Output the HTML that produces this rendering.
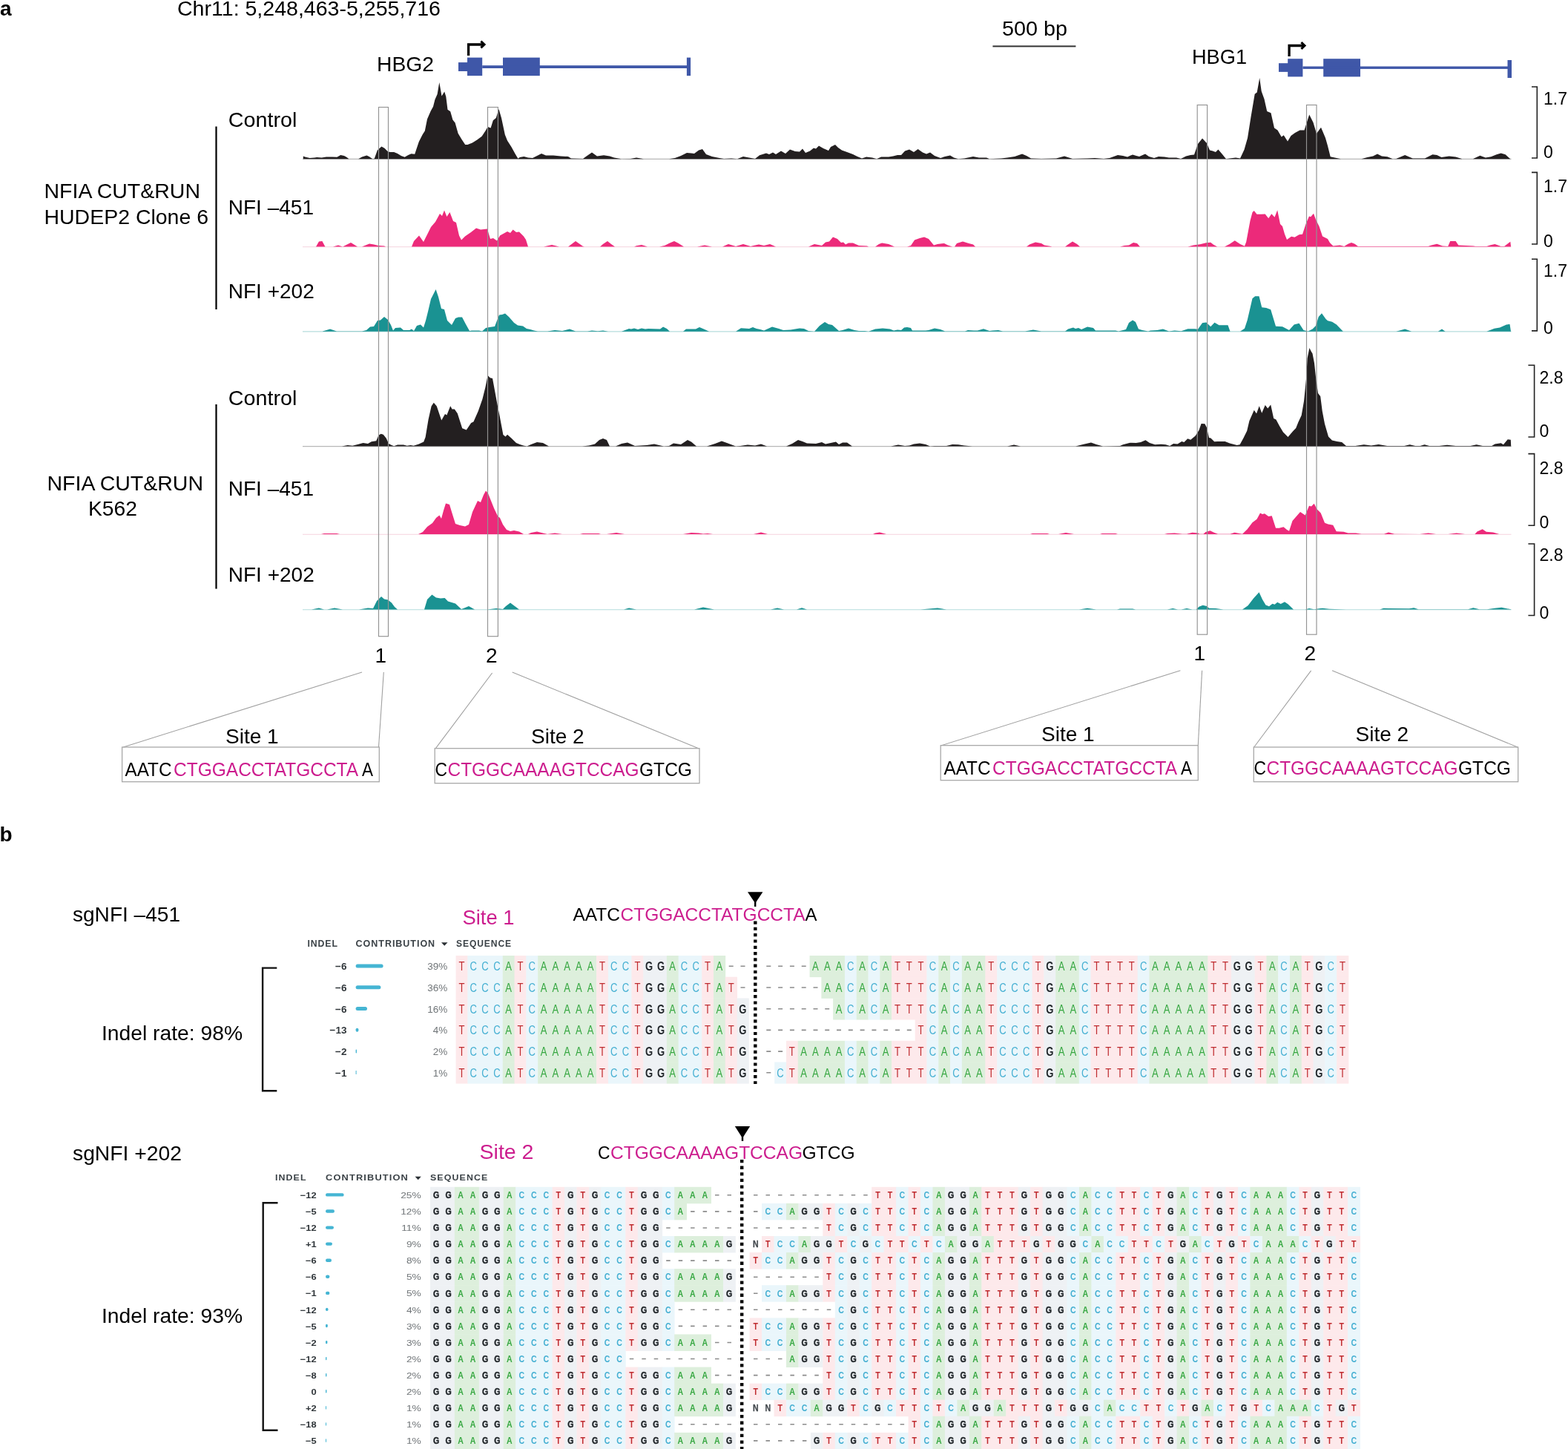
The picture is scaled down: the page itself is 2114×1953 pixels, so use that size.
<!DOCTYPE html>
<html lang="en">
<head>
<meta charset="utf-8">
<title>NFIA CUT&amp;RUN at HBG2/HBG1 and sgNFI editing</title>
<style>
html, body { margin: 0; padding: 0; background: #fff; }
body { width: 2114px; height: 1953px; overflow: hidden; font-family: 'Liberation Sans', Arial, sans-serif; }
svg { display: block; }
</style>
</head>
<body>
<svg width="2114" height="1953" viewBox="0 0 2114 1953" font-family="'Liberation Sans', Arial, sans-serif">
<style>.fT{fill:#bf2a2e}.bT{fill:#fde9eb}.fC{fill:#44afd2}.bC{fill:#eaf6fb}.fA{fill:#36a741}.bA{fill:#ddefdc}.fG{fill:#1f2428}.bG{fill:#eef1f4}.fN{fill:#444a4f}</style>
<text x="0.0" y="21.0" font-size="28" font-weight="bold">a</text>
<text x="239.0" y="21.0" font-size="27" textLength="355.0" lengthAdjust="spacingAndGlyphs">Chr11: 5,248,463-5,255,716</text>
<rect x="618.00" y="84.10" width="13.00" height="11.90" fill="#3f57a8" />
<rect x="630.00" y="77.60" width="20.20" height="24.50" fill="#3f57a8" />
<rect x="678.00" y="77.60" width="49.80" height="24.50" fill="#3f57a8" />
<rect x="650.20" y="88.20" width="275.80" height="3.80" fill="#3f57a8" />
<rect x="925.90" y="77.60" width="5.20" height="24.50" fill="#3f57a8" />
<path d="M631.6,75.0 V60.0 H652.1" fill="none" stroke="#000" stroke-width="3.3"/>
<path d="M648.4,55.6 L653.0,60.0 L648.4,64.4" fill="none" stroke="#000" stroke-width="3" stroke-linejoin="miter" stroke-miterlimit="6"/>
<rect x="1724.00" y="85.20" width="13.00" height="11.70" fill="#3f57a8" />
<rect x="1736.20" y="79.20" width="20.20" height="24.20" fill="#3f57a8" />
<rect x="1784.20" y="79.20" width="49.80" height="24.20" fill="#3f57a8" />
<rect x="1756.40" y="89.50" width="276.60" height="3.40" fill="#3f57a8" />
<rect x="2032.50" y="81.00" width="5.50" height="24.00" fill="#3f57a8" />
<path d="M1738.1,75.9 V61.5 H1758.1" fill="none" stroke="#000" stroke-width="3.3"/>
<path d="M1754.4,57.1 L1759.0,61.5 L1754.4,65.9" fill="none" stroke="#000" stroke-width="3" stroke-linejoin="miter" stroke-miterlimit="6"/>
<text x="508.0" y="96.0" font-size="28" textLength="77.0" lengthAdjust="spacingAndGlyphs">HBG2</text>
<text x="1607.0" y="86.4" font-size="28" textLength="74.0" lengthAdjust="spacingAndGlyphs">HBG1</text>
<text x="1351.0" y="48.0" font-size="28" textLength="88.0" lengthAdjust="spacingAndGlyphs">500 bp</text>
<rect x="1338.40" y="61.40" width="112.00" height="2.00" fill="#333" />
<text x="307.8" y="171.2" font-size="28" textLength="92.5" lengthAdjust="spacingAndGlyphs">Control</text>
<text x="307.8" y="288.6" font-size="28">NFI –451</text>
<text x="307.8" y="401.8" font-size="28">NFI +202</text>
<text x="307.8" y="545.7" font-size="28" textLength="92.5" lengthAdjust="spacingAndGlyphs">Control</text>
<text x="307.8" y="667.6" font-size="28">NFI –451</text>
<text x="307.8" y="783.5" font-size="28">NFI +202</text>
<text x="59.5" y="267.3" font-size="28" textLength="210.5" lengthAdjust="spacingAndGlyphs">NFIA CUT&amp;RUN</text>
<text x="59.5" y="302.0" font-size="28" textLength="221.5" lengthAdjust="spacingAndGlyphs">HUDEP2 Clone 6</text>
<text x="63.5" y="661.0" font-size="28" textLength="210.5" lengthAdjust="spacingAndGlyphs">NFIA CUT&amp;RUN</text>
<text x="119.0" y="695.3" font-size="28" textLength="66.0" lengthAdjust="spacingAndGlyphs">K562</text>
<rect x="290.40" y="170.50" width="2.20" height="246.50" fill="#000" />
<rect x="290.40" y="545.00" width="2.20" height="248.60" fill="#000" />
<line x1="408.0" y1="214.4" x2="2037.5" y2="214.4" stroke="#b8b8b8" stroke-width="1.1" />
<path d="M408.8,214.2 L408.8,210.5 L411.2,211.5 L417.6,213.1 L424.0,212.6 L427.2,212.1 L433.6,212.6 L440.0,211.5 L448.0,211.5 L454.4,211.8 L459.2,209.1 L464.0,209.9 L467.2,211.8 L470.4,214.2 L483.2,214.2 L488.0,211.5 L494.4,209.4 L497.6,211.0 L502.4,214.2 L504.8,213.7 L508.8,202.5 L514.4,197.4 L518.4,199.8 L523.2,204.6 L526.4,205.1 L531.2,205.1 L536.0,207.0 L540.8,209.9 L545.6,211.8 L550.4,208.9 L554.4,207.3 L559.2,207.8 L561.6,200.6 L564.8,191.0 L569.6,181.4 L572.8,176.6 L576.0,160.6 L580.8,149.4 L584.0,143.8 L586.4,134.2 L589.6,127.0 L592.3,111.0 L595.5,129.4 L599.2,123.5 L601.3,130.2 L603.5,147.8 L607.2,150.2 L610.4,161.4 L613.6,165.4 L617.6,179.8 L622.4,187.8 L627.2,195.0 L630.4,195.0 L636.8,192.6 L643.2,188.6 L649.6,183.8 L654.4,176.6 L657.6,171.0 L661.6,172.6 L664.8,162.2 L668.8,159.0 L672.5,147.0 L676.0,159.0 L680.8,181.4 L684.0,189.4 L689.6,198.2 L694.4,207.0 L698.4,213.7 L700.8,212.1 L706.4,211.0 L712.0,212.6 L718.0,213.0 L730.0,207.0 L736.0,209.6 L746.0,209.6 L756.0,210.6 L766.0,211.0 L770.0,213.6 L786.0,214.0 L790.0,211.0 L798.0,205.6 L805.0,210.4 L814.0,209.2 L822.0,210.4 L828.0,212.4 L838.0,214.2 L850.0,214.0 L858.0,212.4 L868.0,214.2 L902.0,214.2 L910.0,213.0 L918.0,210.0 L926.0,206.0 L932.0,206.4 L936.0,207.0 L942.0,202.4 L947.0,201.0 L952.0,208.0 L960.0,211.0 L970.0,213.0 L976.0,214.0 L986.0,213.6 L994.0,214.2 L1002.0,211.0 L1010.0,212.4 L1018.0,214.0 L1024.0,209.2 L1033.0,206.4 L1037.0,208.0 L1042.0,205.6 L1046.0,208.0 L1053.0,203.6 L1059.0,207.0 L1065.0,201.6 L1072.0,204.0 L1078.0,204.4 L1082.0,200.4 L1086.0,206.0 L1092.0,203.6 L1097.0,199.6 L1100.0,200.4 L1104.0,196.4 L1110.0,200.0 L1117.0,203.0 L1120.0,198.0 L1126.0,195.0 L1130.0,199.0 L1135.0,202.4 L1142.0,205.0 L1150.0,208.0 L1156.0,211.0 L1162.0,213.6 L1168.0,211.6 L1176.0,212.4 L1182.0,214.2 L1188.0,211.6 L1198.0,211.6 L1204.0,210.4 L1210.0,209.0 L1215.0,209.0 L1220.0,203.6 L1226.0,201.6 L1232.0,205.0 L1237.6,201.0 L1244.0,205.6 L1249.0,207.6 L1254.0,205.6 L1260.0,210.0 L1268.0,213.0 L1274.0,211.0 L1281.0,209.6 L1286.0,212.4 L1292.0,214.2 L1300.0,213.6 L1312.0,211.0 L1320.0,212.4 L1330.0,212.4 L1334.0,214.2 L1350.0,213.6 L1358.0,212.4 L1368.0,211.0 L1378.0,207.6 L1384.0,210.0 L1390.0,213.6 L1404.0,214.0 L1424.0,213.6 L1435.0,210.4 L1446.0,214.0 L1466.0,213.6 L1476.0,213.0 L1488.0,214.0 L1496.0,213.0 L1507.0,209.0 L1514.0,210.0 L1520.0,211.6 L1527.0,208.4 L1532.0,210.0 L1536.0,211.0 L1544.0,207.4 L1549.0,211.0 L1556.0,213.0 L1562.0,211.0 L1570.0,211.6 L1576.0,212.4 L1586.0,212.4 L1592.0,214.0 L1599.0,210.4 L1605.0,209.0 L1610.0,208.6 L1615.0,194.0 L1621.0,186.4 L1627.0,193.0 L1631.0,202.6 L1635.0,203.4 L1639.0,205.0 L1642.4,201.6 L1648.0,208.0 L1653.0,214.2 L1658.0,213.6 L1666.0,212.4 L1672.0,213.6 L1677.5,201.7 L1682.0,186.0 L1686.5,157.5 L1691.7,126.7 L1694.7,124.5 L1698.2,105.0 L1700.7,123.0 L1704.5,133.5 L1708.2,150.0 L1713.5,152.2 L1718.0,172.5 L1722.5,175.5 L1727.7,184.5 L1730.7,182.2 L1736.0,190.5 L1740.5,183.0 L1746.0,179.0 L1752.5,175.5 L1758.5,175.5 L1765.2,154.5 L1770.5,165.0 L1775.0,180.0 L1781.0,171.7 L1787.0,186.0 L1790.0,196.4 L1793.7,211.2 L1807.9,214.2 L1835.4,214.2 L1843.6,212.0 L1851.0,210.5 L1857.0,207.5 L1863.0,210.5 L1870.4,211.2 L1877.8,214.2 L1882.3,213.9 L1894.2,209.0 L1904.6,213.5 L1921.0,213.5 L1931.4,208.3 L1937.3,209.0 L1943.3,212.0 L1953.7,210.5 L1962.6,211.5 L1971.5,214.2 L1985.7,214.2 L1995.4,209.8 L2002.8,212.4 L2010.2,211.2 L2017.7,208.3 L2023.6,206.5 L2029.6,208.3 L2036.3,214.2 L2036.3,214.2 Z" fill="#231f20"/>
<line x1="408.0" y1="332.7" x2="2037.5" y2="332.7" stroke="#f5d2de" stroke-width="1.1" />
<path d="M426.0,332.5 L426.0,332.5 L430.0,325.4 L434.4,325.0 L438.4,332.5 L449.0,332.5 L456.0,330.6 L462.0,332.5 L465.0,331.0 L473.0,327.0 L482.0,332.5 L488.0,332.5 L498.0,328.6 L504.0,329.4 L510.0,331.0 L518.0,331.4 L520.0,332.5 L555.0,332.5 L558.0,325.0 L565.0,317.4 L571.0,326.0 L575.0,318.0 L581.0,306.0 L587.0,299.0 L593.0,288.0 L596.0,291.0 L599.0,283.4 L602.4,292.0 L606.4,286.0 L611.0,298.0 L615.0,300.0 L619.0,317.4 L622.0,323.4 L627.0,318.6 L635.0,313.0 L642.0,307.4 L648.0,309.4 L657.0,308.6 L661.0,322.0 L665.0,321.0 L670.0,324.6 L674.0,317.4 L684.0,312.0 L688.0,314.0 L691.6,309.4 L696.0,313.0 L700.0,312.6 L706.0,318.6 L709.0,323.0 L712.0,332.5 L733.0,332.5 L744.0,330.0 L754.0,332.5 L766.0,332.5 L776.0,325.0 L786.0,332.0 L788.0,332.5 L809.0,332.5 L813.0,329.0 L819.0,325.0 L824.0,329.0 L829.0,332.5 L855.0,332.5 L858.0,331.2 L865.0,330.0 L873.0,332.5 L889.0,332.5 L896.0,331.0 L903.0,327.6 L909.0,325.0 L914.0,327.6 L922.0,332.5 L940.0,332.5 L950.0,330.4 L960.0,332.5 L974.0,332.5 L982.0,329.0 L992.0,332.0 L1002.0,329.0 L1012.0,332.0 L1023.0,329.4 L1030.0,331.0 L1038.0,329.0 L1046.0,332.5 L1090.0,332.5 L1098.0,329.0 L1108.0,331.0 L1113.0,326.4 L1118.0,325.6 L1123.0,319.6 L1129.0,322.0 L1134.0,327.0 L1137.0,326.4 L1140.0,329.6 L1144.0,327.6 L1150.0,327.6 L1158.0,331.0 L1169.0,331.6 L1171.0,332.5 L1180.0,332.5 L1185.0,329.0 L1189.0,327.4 L1198.0,329.0 L1206.0,332.5 L1223.0,332.5 L1228.0,331.0 L1233.0,323.6 L1240.0,321.0 L1246.0,319.4 L1252.0,322.0 L1259.0,330.4 L1264.0,329.0 L1273.0,328.0 L1278.0,330.4 L1284.0,332.5 L1287.0,332.5 L1290.0,328.0 L1298.0,325.6 L1306.0,328.0 L1312.0,329.6 L1315.0,332.5 L1384.0,332.5 L1388.0,329.6 L1396.0,326.6 L1404.0,328.0 L1408.0,330.4 L1417.0,332.0 L1418.0,332.5 L1436.0,332.5 L1440.0,329.6 L1446.0,325.6 L1452.0,329.0 L1456.0,332.5 L1510.0,332.5 L1516.0,331.0 L1522.0,330.4 L1528.0,327.0 L1533.0,328.0 L1537.0,332.5 L1601.5,332.4 L1609.0,330.5 L1618.0,329.3 L1626.2,327.2 L1632.2,326.7 L1636.0,329.7 L1641.2,332.4 L1651.0,332.4 L1657.7,329.0 L1664.8,324.2 L1672.0,329.0 L1678.0,331.7 L1680.2,326.0 L1685.5,297.5 L1688.5,286.2 L1690.7,284.0 L1694.5,288.8 L1700.5,288.8 L1705.7,288.5 L1710.2,294.2 L1714.3,288.2 L1718.5,292.7 L1722.2,283.2 L1726.0,302.0 L1729.0,305.0 L1732.0,315.5 L1735.0,323.0 L1741.0,318.8 L1745.5,319.7 L1751.5,316.2 L1756.0,315.8 L1760.5,302.0 L1765.0,291.5 L1767.2,292.2 L1771.0,287.7 L1774.0,296.0 L1778.5,305.0 L1783.0,318.5 L1787.5,320.7 L1790.0,322.1 L1793.0,327.3 L1797.4,331.5 L1801.9,331.0 L1806.4,330.6 L1812.3,332.1 L1817.5,328.8 L1822.0,327.0 L1826.5,328.8 L1830.9,332.1 L1925.4,332.1 L1929.9,330.6 L1937.3,328.8 L1944.8,331.5 L1952.2,332.1 L1955.2,325.1 L1962.6,325.1 L1966.3,330.6 L1986.4,331.5 L1989.4,332.1 L2004.3,332.1 L2008.8,330.6 L2015.4,329.1 L2023.6,332.1 L2028.1,332.1 L2036.3,325.8 L2037.0,332.1 L2037.0,332.5 Z" fill="#ec2a7a"/>
<line x1="408.0" y1="446.9" x2="2037.5" y2="446.9" stroke="#b5dcdc" stroke-width="1.1" />
<path d="M435.0,446.7 L435.0,446.6 L445.0,443.6 L454.0,446.6 L488.0,446.6 L494.0,445.0 L499.0,440.4 L504.0,440.0 L509.0,432.0 L513.0,431.6 L518.0,427.0 L523.0,431.0 L527.0,438.0 L530.0,445.6 L533.0,442.0 L540.0,441.6 L544.0,445.0 L552.0,445.0 L555.0,443.6 L558.0,446.0 L562.0,439.0 L567.0,437.6 L571.0,441.6 L574.0,432.0 L577.0,420.0 L581.0,403.0 L587.6,390.0 L591.0,400.0 L595.0,416.0 L599.0,417.0 L603.0,432.0 L609.0,438.0 L614.0,429.0 L618.0,427.4 L623.0,427.6 L628.0,437.0 L633.0,446.0 L636.0,445.6 L646.0,445.6 L650.0,446.6 L655.0,442.0 L660.0,441.0 L667.0,440.0 L673.0,424.4 L677.0,424.0 L681.0,422.4 L686.0,427.0 L693.0,435.0 L698.0,438.4 L705.0,439.6 L710.0,443.0 L715.0,444.0 L720.0,445.6 L725.0,446.6 L738.0,446.6 L748.0,445.0 L758.0,446.0 L768.0,443.6 L776.0,446.6 L792.0,446.6 L798.0,445.4 L806.0,446.2 L813.0,445.4 L820.0,446.7 L838.0,446.7 L848.0,443.0 L851.0,443.6 L855.0,442.6 L860.0,444.0 L865.0,442.4 L870.0,443.4 L874.0,443.0 L890.0,443.4 L894.0,440.6 L899.0,443.0 L903.0,446.7 L921.0,446.7 L925.0,443.6 L938.0,443.6 L943.0,441.0 L950.0,444.0 L956.0,446.7 L992.0,446.7 L999.0,442.2 L1010.0,443.0 L1015.0,441.0 L1020.0,443.0 L1025.0,444.0 L1030.0,445.4 L1041.0,440.6 L1050.0,443.0 L1056.0,445.0 L1066.0,444.6 L1078.0,442.6 L1084.0,443.0 L1090.0,446.0 L1098.0,446.7 L1105.0,439.0 L1112.0,434.0 L1117.0,437.0 L1122.0,438.0 L1131.0,446.0 L1136.0,445.0 L1144.0,442.4 L1152.0,445.0 L1158.0,446.0 L1166.0,446.0 L1171.0,446.7 L1180.0,443.6 L1190.0,442.6 L1200.0,443.6 L1205.0,445.4 L1210.0,444.4 L1215.0,445.0 L1219.0,441.6 L1223.0,441.0 L1228.0,442.0 L1230.0,445.4 L1248.0,445.6 L1252.0,445.0 L1260.0,442.4 L1268.0,444.0 L1274.0,446.6 L1301.0,446.6 L1305.0,445.0 L1313.0,445.6 L1318.0,445.6 L1326.0,443.2 L1334.0,446.0 L1338.0,445.6 L1346.0,445.0 L1352.0,446.6 L1382.0,446.6 L1393.0,444.4 L1404.0,446.6 L1436.0,446.6 L1440.0,443.6 L1447.0,441.6 L1450.0,443.0 L1454.0,442.0 L1458.0,444.0 L1466.0,440.6 L1474.0,442.0 L1477.0,445.6 L1504.0,445.6 L1508.0,446.6 L1512.0,445.6 L1518.0,444.0 L1522.0,435.0 L1527.0,431.6 L1531.0,434.0 L1535.0,443.6 L1540.0,445.0 L1548.0,446.6 L1551.0,445.6 L1560.0,445.0 L1568.0,443.6 L1576.0,446.5 L1583.5,445.4 L1592.5,446.2 L1601.5,443.2 L1610.5,443.2 L1615.0,443.8 L1621.0,435.2 L1626.2,434.5 L1632.2,440.2 L1637.5,434.8 L1643.5,438.2 L1655.5,438.2 L1658.5,446.7 L1672.0,446.7 L1678.0,442.7 L1681.7,431.5 L1688.5,402.2 L1692.2,399.2 L1697.5,399.2 L1701.2,414.2 L1707.2,415.0 L1713.2,417.2 L1720.0,439.7 L1729.0,440.2 L1738.0,445.0 L1744.7,437.5 L1751.5,435.7 L1757.5,445.0 L1763.5,446.5 L1769.5,443.5 L1774.0,439.0 L1777.7,427.0 L1782.0,422.2 L1787.5,430.0 L1790.0,432.2 L1796.0,433.7 L1801.9,437.4 L1810.8,446.7 L1882.3,446.7 L1894.2,443.4 L1903.1,446.7 L1938.8,446.7 L1944.0,443.4 L1948.5,446.7 L2004.3,446.7 L2014.7,442.7 L2022.1,441.6 L2031.1,437.4 L2035.5,437.1 L2037.0,446.7 L2037.0,446.7 Z" fill="#1a9292"/>
<line x1="408.0" y1="601.6" x2="2037.5" y2="601.6" stroke="#b8b8b8" stroke-width="1.1" />
<path d="M460.8,601.4 L460.8,601.4 L468.8,600.0 L475.2,600.7 L483.2,598.8 L489.6,596.9 L496.0,598.0 L500.8,595.3 L507.2,594.3 L510.4,586.8 L513.6,584.7 L516.8,585.7 L520.8,590.8 L524.0,598.0 L528.0,600.0 L531.2,601.2 L536.0,599.6 L544.0,599.6 L548.8,600.7 L553.6,599.9 L557.6,600.7 L564.8,598.5 L571.2,595.6 L573.6,589.2 L577.6,565.2 L581.6,547.6 L584.8,542.8 L588.8,547.6 L595.2,566.5 L600.0,558.0 L602.4,559.6 L607.2,547.3 L609.6,551.6 L612.8,551.6 L616.8,557.2 L623.2,577.2 L628.8,579.6 L635.2,570.0 L638.4,568.4 L644.8,554.0 L650.4,538.0 L654.4,522.0 L657.6,506.0 L660.8,509.2 L664.0,510.0 L670.4,544.4 L673.6,560.4 L678.4,586.0 L681.6,588.4 L684.0,585.7 L689.6,590.8 L696.0,596.9 L700.8,599.1 L705.6,600.4 L710.4,601.4 L716.0,599.0 L724.0,596.0 L732.0,597.0 L740.0,601.4 L785.0,601.4 L794.0,600.4 L802.0,598.4 L808.0,593.0 L813.0,591.0 L818.0,593.0 L822.0,601.4 L830.0,601.4 L838.0,598.0 L846.0,596.6 L856.0,601.0 L872.0,600.0 L882.0,598.6 L895.0,601.4 L902.0,601.0 L908.0,597.6 L918.0,599.0 L927.0,593.0 L932.0,595.6 L939.0,601.4 L953.0,601.4 L964.0,598.0 L973.0,594.4 L980.0,597.0 L992.0,601.4 L998.0,601.0 L1008.0,599.6 L1018.0,600.4 L1026.0,598.6 L1034.0,601.4 L1060.0,601.4 L1068.0,598.0 L1076.0,593.0 L1082.0,595.0 L1088.0,597.6 L1100.0,598.0 L1108.0,596.0 L1113.0,598.6 L1120.0,597.0 L1127.0,595.6 L1131.0,599.0 L1136.0,596.4 L1142.0,596.4 L1149.0,601.4 L1201.0,601.4 L1211.0,599.6 L1220.0,601.0 L1226.0,600.6 L1232.0,598.6 L1240.0,597.6 L1248.0,599.0 L1254.0,601.4 L1260.0,601.0 L1276.0,601.0 L1284.0,599.0 L1292.0,599.2 L1300.0,600.4 L1311.0,601.4 L1358.0,601.4 L1367.0,599.6 L1376.0,601.4 L1450.0,601.4 L1460.0,599.0 L1471.0,596.4 L1478.0,599.0 L1487.0,601.4 L1510.0,601.1 L1514.0,599.2 L1523.6,596.8 L1531.6,597.1 L1538.0,596.0 L1544.4,593.3 L1550.0,597.1 L1557.2,599.2 L1565.2,598.7 L1571.6,599.2 L1577.2,601.1 L1582.0,598.1 L1587.6,598.4 L1593.2,594.9 L1596.4,596.0 L1601.2,591.2 L1605.2,592.8 L1611.6,587.5 L1616.4,580.0 L1619.6,570.9 L1624.4,571.2 L1626.8,576.0 L1630.0,590.0 L1632.4,590.4 L1637.2,595.2 L1642.0,594.9 L1651.6,594.9 L1658.0,597.6 L1667.6,600.0 L1671.6,599.2 L1676.4,590.4 L1681.2,580.8 L1684.4,567.2 L1690.8,552.8 L1694.0,557.6 L1697.7,547.2 L1701.2,556.8 L1705.7,545.9 L1709.2,550.4 L1713.2,545.6 L1717.2,564.0 L1720.4,565.6 L1725.2,574.4 L1730.0,582.4 L1736.5,589.0 L1743.1,581.2 L1747.2,577.1 L1750.5,568.8 L1754.7,559.7 L1758.0,540.8 L1761.3,507.8 L1762.6,483.0 L1765.4,469.0 L1767.9,473.9 L1769.5,476.4 L1772.0,489.6 L1774.5,512.7 L1777.0,530.0 L1780.2,534.2 L1782.7,554.0 L1786.0,571.3 L1791.0,588.6 L1795.9,593.6 L1802.5,594.9 L1809.1,596.0 L1814.9,601.0 L1827.3,601.0 L1838.8,599.3 L1848.7,600.5 L1858.6,599.0 L1870.2,601.0 L1893.3,601.0 L1900.7,599.3 L1908.1,601.0 L1914.7,601.0 L1920.5,599.3 L1927.1,601.0 L1940.3,601.0 L1951.0,599.8 L1962.6,601.0 L1982.4,601.0 L1990.6,599.3 L1998.9,601.0 L2011.3,601.0 L2015.4,598.5 L2023.6,597.2 L2026.9,599.3 L2032.7,592.2 L2036.8,592.7 L2037.2,601.0 L2037.2,601.4 Z" fill="#231f20"/>
<line x1="408.0" y1="720.2" x2="2037.5" y2="720.2" stroke="#f5d2de" stroke-width="1.1" />
<path d="M433.0,720.0 L433.0,720.0 L437.0,719.0 L454.0,719.0 L458.0,720.0 L564.0,720.0 L570.0,717.0 L576.0,710.0 L583.0,705.0 L588.0,698.0 L592.4,694.4 L595.0,699.0 L598.0,688.0 L601.0,678.4 L606.0,680.0 L609.0,690.0 L614.0,706.0 L620.0,708.0 L627.0,709.6 L632.0,707.0 L637.0,690.0 L644.0,675.0 L648.0,677.0 L652.0,667.0 L655.0,661.6 L658.0,665.0 L662.0,675.0 L666.0,685.0 L671.0,695.6 L674.0,698.0 L678.0,707.0 L683.0,714.0 L688.0,716.0 L693.0,715.0 L700.0,716.4 L706.0,720.0 L712.0,720.0 L716.0,718.0 L724.0,716.6 L734.0,719.0 L738.0,720.0 L748.0,718.4 L758.0,720.0 L782.0,720.0 L786.0,719.0 L790.0,719.0 L807.0,719.0 L810.0,720.0 L818.0,720.0 L831.0,718.0 L842.0,720.0 L921.0,720.0 L932.0,718.0 L942.0,718.4 L948.0,719.6 L954.0,719.0 L961.0,720.0 L1016.0,720.0 L1026.0,717.4 L1035.0,720.0 L1177.0,720.0 L1180.0,718.5 L1186.0,717.6 L1195.0,720.0 L1389.0,720.0 L1392.0,719.0 L1412.0,719.0 L1415.0,720.0 L1427.0,720.0 L1437.0,718.0 L1448.0,720.0 L1483.0,720.0 L1486.0,719.0 L1504.0,719.0 L1507.0,720.0 L1570.0,720.0 L1574.0,719.0 L1583.5,718.5 L1594.0,719.7 L1600.0,719.7 L1607.5,717.7 L1615.0,718.5 L1617.2,719.7 L1622.5,719.7 L1625.5,717.0 L1631.5,715.2 L1636.7,717.7 L1642.0,719.7 L1658.5,719.7 L1664.5,717.7 L1672.0,719.2 L1675.0,719.7 L1681.7,713.2 L1688.5,704.2 L1694.5,699.7 L1699.0,691.5 L1702.0,693.0 L1705.0,692.2 L1710.2,696.0 L1714.7,695.2 L1720.0,711.7 L1724.5,711.7 L1730.5,710.2 L1735.0,714.0 L1738.0,715.8 L1742.5,702.0 L1753.0,690.0 L1759.7,694.5 L1765.0,681.7 L1768.0,682.5 L1771.7,678.7 L1775.5,686.2 L1780.7,691.5 L1786.0,704.7 L1790.5,706.5 L1797.2,707.7 L1801.7,716.2 L1811.5,716.7 L1817.5,718.5 L1828.0,718.5 L1835.5,719.7 L1866.0,719.7 L1872.0,717.5 L1880.0,719.7 L1914.4,720.0 L1925.7,718.5 L1936.0,720.0 L1952.4,720.0 L1963.7,718.5 L1975.0,720.0 L1988.4,720.0 L1991.5,716.4 L1998.7,713.3 L2003.8,716.8 L2013.0,717.5 L2021.3,720.0 L2021.3,720.0 Z" fill="#ec2a7a"/>
<line x1="408.0" y1="821.7" x2="2037.5" y2="821.7" stroke="#b5dcdc" stroke-width="1.1" />
<path d="M420.0,821.5 L420.0,821.5 L430.0,819.4 L437.0,821.5 L441.0,821.5 L451.0,819.6 L462.0,821.5 L484.0,821.5 L496.0,819.6 L503.0,820.0 L508.0,810.0 L514.0,804.0 L518.0,807.6 L523.0,808.4 L528.0,812.4 L532.0,818.0 L536.0,821.5 L572.0,821.5 L576.0,808.0 L582.4,801.6 L588.0,805.6 L594.0,806.6 L599.6,806.0 L604.0,810.6 L614.0,813.6 L622.0,821.0 L626.0,819.6 L632.0,817.0 L640.0,821.5 L657.0,821.5 L669.0,820.0 L678.0,821.0 L682.0,817.0 L688.0,812.6 L694.0,817.0 L700.0,821.5 L841.0,821.5 L848.0,819.4 L858.0,821.5 L936.0,821.5 L948.0,818.6 L963.0,821.5 L1039.0,821.5 L1048.0,819.6 L1057.0,821.5 L1074.0,821.5 L1081.0,819.2 L1088.0,821.5 L1241.0,821.5 L1264.0,819.4 L1276.0,821.5 L1455.0,821.5 L1466.0,819.8 L1478.0,821.5 L1506.0,821.5 L1510.0,820.4 L1527.0,820.4 L1531.0,821.5 L1573.7,821.5 L1581.2,820.0 L1588.0,821.5 L1592.5,821.5 L1600.0,820.0 L1607.5,821.5 L1612.7,821.5 L1616.5,817.7 L1621.7,815.8 L1627.0,817.0 L1630.0,819.7 L1639.0,820.0 L1649.5,821.5 L1675.0,821.5 L1682.5,816.2 L1690.0,806.5 L1697.5,798.2 L1702.0,808.0 L1706.5,815.5 L1711.0,817.3 L1715.5,813.7 L1718.5,814.7 L1722.2,811.7 L1726.7,814.0 L1732.0,811.3 L1736.5,814.3 L1744.0,821.5 L1759.7,821.5 L1765.0,820.0 L1771.7,821.2 L1783.0,819.7 L1792.0,820.7 L1814.5,821.5 L1860.2,821.5 L1865.5,819.7 L1872.0,820.0 L1900.0,820.2 L1906.2,819.2 L1912.3,821.3 L1979.2,821.3 L1986.3,819.2 L1994.6,821.3 L2004.9,821.3 L2015.1,819.8 L2024.4,818.8 L2031.6,820.3 L2037.3,821.3 L2037.3,821.5 Z" fill="#1a9292"/>
<path d="M2065.0,117.0 H2072.3 V213.0 H2065.0" fill="none" stroke="#222" stroke-width="1.6"/>
<path d="M2065.0,232.4 H2072.3 V329.0 H2065.0" fill="none" stroke="#222" stroke-width="1.6"/>
<path d="M2065.0,349.3 H2072.3 V445.9 H2065.0" fill="none" stroke="#222" stroke-width="1.6"/>
<text x="2081.0" y="141.0" font-size="23">1.7</text>
<text x="2081.0" y="258.7" font-size="23">1.7</text>
<text x="2081.0" y="372.6" font-size="23">1.7</text>
<text x="2081.0" y="213.0" font-size="23">0</text>
<text x="2081.0" y="332.7" font-size="23">0</text>
<text x="2081.0" y="449.6" font-size="23">0</text>
<path d="M2060.4,492.3 H2068.6 V589.0 H2060.4" fill="none" stroke="#222" stroke-width="1.6"/>
<path d="M2060.4,611.6 H2068.6 V708.2 H2060.4" fill="none" stroke="#222" stroke-width="1.6"/>
<path d="M2060.4,733.0 H2068.6 V829.5 H2060.4" fill="none" stroke="#222" stroke-width="1.6"/>
<text x="2075.5" y="516.6" font-size="23">2.8</text>
<text x="2075.5" y="638.7" font-size="23">2.8</text>
<text x="2075.5" y="755.5" font-size="23">2.8</text>
<text x="2075.5" y="589.0" font-size="23">0</text>
<text x="2075.5" y="712.0" font-size="23">0</text>
<text x="2075.5" y="833.6" font-size="23">0</text>
<rect x="510.5" y="144.5" width="13.0" height="713.2" fill="none" stroke="#939393" stroke-width="1.15"/>
<rect x="657.5" y="144.5" width="13.9" height="713.2" fill="none" stroke="#939393" stroke-width="1.15"/>
<rect x="1614.2" y="141.5" width="13.4" height="713.7" fill="none" stroke="#939393" stroke-width="1.15"/>
<rect x="1761.5" y="141.5" width="13.5" height="713.7" fill="none" stroke="#939393" stroke-width="1.15"/>
<text x="505.5" y="893.0" font-size="28">1</text>
<text x="655.0" y="893.0" font-size="28">2</text>
<text x="1609.5" y="889.7" font-size="28">1</text>
<text x="1758.5" y="889.7" font-size="28">2</text>
<line x1="488.0" y1="905.9" x2="166.2" y2="1007.0" stroke="#a0a0a0" stroke-width="1.1" />
<line x1="517.3" y1="906.0" x2="510.5" y2="1007.0" stroke="#a0a0a0" stroke-width="1.1" />
<line x1="663.6" y1="907.0" x2="587.4" y2="1008.7" stroke="#a0a0a0" stroke-width="1.1" />
<line x1="690.7" y1="906.0" x2="941.8" y2="1008.7" stroke="#a0a0a0" stroke-width="1.1" />
<line x1="1591.4" y1="903.8" x2="1269.4" y2="1004.7" stroke="#a0a0a0" stroke-width="1.1" />
<line x1="1620.6" y1="903.8" x2="1615.3" y2="1004.7" stroke="#a0a0a0" stroke-width="1.1" />
<line x1="1767.6" y1="903.8" x2="1690.7" y2="1007.0" stroke="#a0a0a0" stroke-width="1.1" />
<line x1="1796.0" y1="903.8" x2="2045.9" y2="1007.0" stroke="#a0a0a0" stroke-width="1.1" />
<rect x="164.6" y="1007.0" width="346.7" height="46.7" fill="none" stroke="#a8a8a8" stroke-width="1.3"/>
<rect x="586.2" y="1008.7" width="356.8" height="47.0" fill="none" stroke="#a8a8a8" stroke-width="1.3"/>
<rect x="1268.2" y="1004.7" width="347.1" height="47.0" fill="none" stroke="#a8a8a8" stroke-width="1.3"/>
<rect x="1690.3" y="1007.0" width="356.4" height="46.7" fill="none" stroke="#a8a8a8" stroke-width="1.3"/>
<text x="304.0" y="1002.3" font-size="28">Site 1</text>
<text x="716.0" y="1002.3" font-size="28">Site 2</text>
<text x="1404.0" y="999.0" font-size="28">Site 1</text>
<text x="1827.5" y="999.0" font-size="28">Site 2</text>
<text x="168.5" y="1046.0" font-size="25.5" textLength="63.0" lengthAdjust="spacingAndGlyphs">AATC</text>
<text x="234.1" y="1046.0" font-size="25.5" fill="#cc1d8e" textLength="249.0" lengthAdjust="spacingAndGlyphs">CTGGACCTATGCCTA</text>
<text x="488.0" y="1046.0" font-size="25.5" textLength="15.0" lengthAdjust="spacingAndGlyphs">A</text>
<text x="586.5" y="1046.0" font-size="25.5" textLength="16.5" lengthAdjust="spacingAndGlyphs">C</text>
<text x="603.5" y="1046.0" font-size="25.5" fill="#cc1d8e" textLength="258.0" lengthAdjust="spacingAndGlyphs">CTGGCAAAAGTCCAG</text>
<text x="862.0" y="1046.0" font-size="25.5" textLength="71.0" lengthAdjust="spacingAndGlyphs">GTCG</text>
<text x="1272.5" y="1043.6" font-size="25.5" textLength="63.0" lengthAdjust="spacingAndGlyphs">AATC</text>
<text x="1338.1" y="1043.6" font-size="25.5" fill="#cc1d8e" textLength="249.0" lengthAdjust="spacingAndGlyphs">CTGGACCTATGCCTA</text>
<text x="1592.0" y="1043.6" font-size="25.5" textLength="15.0" lengthAdjust="spacingAndGlyphs">A</text>
<text x="1690.5" y="1043.6" font-size="25.5" textLength="16.5" lengthAdjust="spacingAndGlyphs">C</text>
<text x="1707.5" y="1043.6" font-size="25.5" fill="#cc1d8e" textLength="258.0" lengthAdjust="spacingAndGlyphs">CTGGCAAAAGTCCAG</text>
<text x="1966.0" y="1043.6" font-size="25.5" textLength="71.0" lengthAdjust="spacingAndGlyphs">GTCG</text>
<text x="-0.5" y="1134.0" font-size="28" font-weight="bold">b</text>
<text x="98.0" y="1241.5" font-size="28" textLength="145.0" lengthAdjust="spacingAndGlyphs">sgNFI –451</text>
<text x="137.0" y="1402.3" font-size="28" textLength="190.0" lengthAdjust="spacingAndGlyphs">Indel rate: 98%</text>
<text x="98.0" y="1564.2" font-size="28" textLength="147.0" lengthAdjust="spacingAndGlyphs">sgNFI +202</text>
<text x="137.0" y="1783.0" font-size="28" textLength="190.0" lengthAdjust="spacingAndGlyphs">Indel rate: 93%</text>
<path d="M373.3,1304.6 H354.1 V1470.2 H373.3" fill="none" stroke="#111" stroke-width="2.4"/>
<path d="M374.5,1621.3 H354.7 V1927.7 H374.5" fill="none" stroke="#111" stroke-width="2.4"/>
<text x="623.5" y="1245.6" font-size="28" fill="#cc1d8e" textLength="70.0" lengthAdjust="spacingAndGlyphs">Site 1</text>
<text x="646.5" y="1562.0" font-size="28" fill="#cc1d8e" textLength="73.0" lengthAdjust="spacingAndGlyphs">Site 2</text>
<text x="772.5" y="1241.3" font-size="24.5" textLength="63.5" lengthAdjust="spacingAndGlyphs">AATC</text>
<text x="836.5" y="1241.3" font-size="24.5" fill="#cc1d8e" textLength="249.0" lengthAdjust="spacingAndGlyphs">CTGGACCTATGCCTA</text>
<text x="1085.5" y="1241.3" font-size="24.5" textLength="16.0" lengthAdjust="spacingAndGlyphs">A</text>
<text x="806.0" y="1562.0" font-size="24.5" textLength="16.5" lengthAdjust="spacingAndGlyphs">C</text>
<text x="823.0" y="1562.0" font-size="24.5" fill="#cc1d8e" textLength="259.0" lengthAdjust="spacingAndGlyphs">CTGGCAAAAGTCCAG</text>
<text x="1081.5" y="1562.0" font-size="24.5" textLength="71.0" lengthAdjust="spacingAndGlyphs">GTCG</text>
<path d="M1008,1202.2 L1028.4,1202.2 L1018.2,1217.5 Z" fill="#000"/>
<rect x="1017.00" y="1214.00" width="2.40" height="8.00" fill="#000" />
<path d="M990.8,1518 L1011.2,1518 L1001,1534 Z" fill="#000"/>
<rect x="999.80" y="1530.00" width="2.40" height="8.00" fill="#000" />
<text x="414.4" y="1276.4" font-size="13" font-weight="bold" fill="#3b4247" letter-spacing="1.0" textLength="41.5" lengthAdjust="spacingAndGlyphs">INDEL</text>
<text x="479.6" y="1276.4" font-size="13" font-weight="bold" fill="#3b4247" letter-spacing="1.0" textLength="107.5" lengthAdjust="spacingAndGlyphs">CONTRIBUTION</text>
<text x="615.0" y="1276.4" font-size="13" font-weight="bold" fill="#3b4247" letter-spacing="1.0" textLength="75.0" lengthAdjust="spacingAndGlyphs">SEQUENCE</text>
<path d="M595.0,1270.3 L603.5,1270.3 L599.2,1274.8 Z" fill="#2b3034"/>
<rect class="bT" x="614.61" y="1288.00" width="16.19" height="29.10"/>
<rect class="bC" x="630.39" y="1288.00" width="47.77" height="29.10"/>
<rect class="bA" x="677.76" y="1288.00" width="16.19" height="29.10"/>
<rect class="bT" x="693.56" y="1288.00" width="16.19" height="29.10"/>
<rect class="bC" x="709.35" y="1288.00" width="16.19" height="29.10"/>
<rect class="bA" x="725.13" y="1288.00" width="79.35" height="29.10"/>
<rect class="bT" x="804.09" y="1288.00" width="16.19" height="29.10"/>
<rect class="bC" x="819.88" y="1288.00" width="31.98" height="29.10"/>
<rect class="bT" x="851.46" y="1288.00" width="16.19" height="29.10"/>
<rect class="bG" x="867.25" y="1288.00" width="31.98" height="29.10"/>
<rect class="bA" x="898.83" y="1288.00" width="16.19" height="29.10"/>
<rect class="bC" x="914.62" y="1288.00" width="31.98" height="29.10"/>
<rect class="bT" x="946.19" y="1288.00" width="16.19" height="29.10"/>
<rect class="bA" x="961.99" y="1288.00" width="16.19" height="29.10"/>
<rect class="bA" x="1091.57" y="1288.00" width="47.77" height="29.10"/>
<rect class="bC" x="1138.93" y="1288.00" width="16.19" height="29.10"/>
<rect class="bA" x="1154.72" y="1288.00" width="16.19" height="29.10"/>
<rect class="bC" x="1170.51" y="1288.00" width="16.19" height="29.10"/>
<rect class="bA" x="1186.30" y="1288.00" width="16.19" height="29.10"/>
<rect class="bT" x="1202.10" y="1288.00" width="47.77" height="29.10"/>
<rect class="bC" x="1249.46" y="1288.00" width="16.19" height="29.10"/>
<rect class="bA" x="1265.25" y="1288.00" width="16.19" height="29.10"/>
<rect class="bC" x="1281.05" y="1288.00" width="16.19" height="29.10"/>
<rect class="bA" x="1296.84" y="1288.00" width="31.98" height="29.10"/>
<rect class="bT" x="1328.41" y="1288.00" width="16.19" height="29.10"/>
<rect class="bC" x="1344.20" y="1288.00" width="47.77" height="29.10"/>
<rect class="bT" x="1391.57" y="1288.00" width="16.19" height="29.10"/>
<rect class="bG" x="1407.37" y="1288.00" width="16.19" height="29.10"/>
<rect class="bA" x="1423.15" y="1288.00" width="31.98" height="29.10"/>
<rect class="bC" x="1454.73" y="1288.00" width="16.19" height="29.10"/>
<rect class="bT" x="1470.53" y="1288.00" width="63.56" height="29.10"/>
<rect class="bC" x="1533.68" y="1288.00" width="16.19" height="29.10"/>
<rect class="bA" x="1549.47" y="1288.00" width="79.35" height="29.10"/>
<rect class="bT" x="1628.42" y="1288.00" width="31.98" height="29.10"/>
<rect class="bG" x="1660.00" y="1288.00" width="31.98" height="29.10"/>
<rect class="bT" x="1691.59" y="1288.00" width="16.19" height="29.10"/>
<rect class="bA" x="1707.38" y="1288.00" width="16.19" height="29.10"/>
<rect class="bC" x="1723.16" y="1288.00" width="16.19" height="29.10"/>
<rect class="bA" x="1738.95" y="1288.00" width="16.19" height="29.10"/>
<rect class="bT" x="1754.74" y="1288.00" width="16.19" height="29.10"/>
<rect class="bG" x="1770.53" y="1288.00" width="16.19" height="29.10"/>
<rect class="bC" x="1786.32" y="1288.00" width="16.19" height="29.10"/>
<rect class="bT" x="1802.11" y="1288.00" width="16.19" height="29.10"/>
<rect class="bT" x="614.61" y="1316.70" width="16.19" height="29.10"/>
<rect class="bC" x="630.39" y="1316.70" width="47.77" height="29.10"/>
<rect class="bA" x="677.76" y="1316.70" width="16.19" height="29.10"/>
<rect class="bT" x="693.56" y="1316.70" width="16.19" height="29.10"/>
<rect class="bC" x="709.35" y="1316.70" width="16.19" height="29.10"/>
<rect class="bA" x="725.13" y="1316.70" width="79.35" height="29.10"/>
<rect class="bT" x="804.09" y="1316.70" width="16.19" height="29.10"/>
<rect class="bC" x="819.88" y="1316.70" width="31.98" height="29.10"/>
<rect class="bT" x="851.46" y="1316.70" width="16.19" height="29.10"/>
<rect class="bG" x="867.25" y="1316.70" width="31.98" height="29.10"/>
<rect class="bA" x="898.83" y="1316.70" width="16.19" height="29.10"/>
<rect class="bC" x="914.62" y="1316.70" width="31.98" height="29.10"/>
<rect class="bT" x="946.19" y="1316.70" width="16.19" height="29.10"/>
<rect class="bA" x="961.99" y="1316.70" width="16.19" height="29.10"/>
<rect class="bT" x="977.77" y="1316.70" width="16.19" height="29.10"/>
<rect class="bA" x="1107.36" y="1316.70" width="31.98" height="29.10"/>
<rect class="bC" x="1138.93" y="1316.70" width="16.19" height="29.10"/>
<rect class="bA" x="1154.72" y="1316.70" width="16.19" height="29.10"/>
<rect class="bC" x="1170.51" y="1316.70" width="16.19" height="29.10"/>
<rect class="bA" x="1186.30" y="1316.70" width="16.19" height="29.10"/>
<rect class="bT" x="1202.10" y="1316.70" width="47.77" height="29.10"/>
<rect class="bC" x="1249.46" y="1316.70" width="16.19" height="29.10"/>
<rect class="bA" x="1265.25" y="1316.70" width="16.19" height="29.10"/>
<rect class="bC" x="1281.05" y="1316.70" width="16.19" height="29.10"/>
<rect class="bA" x="1296.84" y="1316.70" width="31.98" height="29.10"/>
<rect class="bT" x="1328.41" y="1316.70" width="16.19" height="29.10"/>
<rect class="bC" x="1344.20" y="1316.70" width="47.77" height="29.10"/>
<rect class="bT" x="1391.57" y="1316.70" width="16.19" height="29.10"/>
<rect class="bG" x="1407.37" y="1316.70" width="16.19" height="29.10"/>
<rect class="bA" x="1423.15" y="1316.70" width="31.98" height="29.10"/>
<rect class="bC" x="1454.73" y="1316.70" width="16.19" height="29.10"/>
<rect class="bT" x="1470.53" y="1316.70" width="63.56" height="29.10"/>
<rect class="bC" x="1533.68" y="1316.70" width="16.19" height="29.10"/>
<rect class="bA" x="1549.47" y="1316.70" width="79.35" height="29.10"/>
<rect class="bT" x="1628.42" y="1316.70" width="31.98" height="29.10"/>
<rect class="bG" x="1660.00" y="1316.70" width="31.98" height="29.10"/>
<rect class="bT" x="1691.59" y="1316.70" width="16.19" height="29.10"/>
<rect class="bA" x="1707.38" y="1316.70" width="16.19" height="29.10"/>
<rect class="bC" x="1723.16" y="1316.70" width="16.19" height="29.10"/>
<rect class="bA" x="1738.95" y="1316.70" width="16.19" height="29.10"/>
<rect class="bT" x="1754.74" y="1316.70" width="16.19" height="29.10"/>
<rect class="bG" x="1770.53" y="1316.70" width="16.19" height="29.10"/>
<rect class="bC" x="1786.32" y="1316.70" width="16.19" height="29.10"/>
<rect class="bT" x="1802.11" y="1316.70" width="16.19" height="29.10"/>
<rect class="bT" x="614.61" y="1345.40" width="16.19" height="29.10"/>
<rect class="bC" x="630.39" y="1345.40" width="47.77" height="29.10"/>
<rect class="bA" x="677.76" y="1345.40" width="16.19" height="29.10"/>
<rect class="bT" x="693.56" y="1345.40" width="16.19" height="29.10"/>
<rect class="bC" x="709.35" y="1345.40" width="16.19" height="29.10"/>
<rect class="bA" x="725.13" y="1345.40" width="79.35" height="29.10"/>
<rect class="bT" x="804.09" y="1345.40" width="16.19" height="29.10"/>
<rect class="bC" x="819.88" y="1345.40" width="31.98" height="29.10"/>
<rect class="bT" x="851.46" y="1345.40" width="16.19" height="29.10"/>
<rect class="bG" x="867.25" y="1345.40" width="31.98" height="29.10"/>
<rect class="bA" x="898.83" y="1345.40" width="16.19" height="29.10"/>
<rect class="bC" x="914.62" y="1345.40" width="31.98" height="29.10"/>
<rect class="bT" x="946.19" y="1345.40" width="16.19" height="29.10"/>
<rect class="bA" x="961.99" y="1345.40" width="16.19" height="29.10"/>
<rect class="bT" x="977.77" y="1345.40" width="16.19" height="29.10"/>
<rect class="bG" x="993.57" y="1345.40" width="16.19" height="29.10"/>
<rect class="bA" x="1123.14" y="1345.40" width="16.19" height="29.10"/>
<rect class="bC" x="1138.93" y="1345.40" width="16.19" height="29.10"/>
<rect class="bA" x="1154.72" y="1345.40" width="16.19" height="29.10"/>
<rect class="bC" x="1170.51" y="1345.40" width="16.19" height="29.10"/>
<rect class="bA" x="1186.30" y="1345.40" width="16.19" height="29.10"/>
<rect class="bT" x="1202.10" y="1345.40" width="47.77" height="29.10"/>
<rect class="bC" x="1249.46" y="1345.40" width="16.19" height="29.10"/>
<rect class="bA" x="1265.25" y="1345.40" width="16.19" height="29.10"/>
<rect class="bC" x="1281.05" y="1345.40" width="16.19" height="29.10"/>
<rect class="bA" x="1296.84" y="1345.40" width="31.98" height="29.10"/>
<rect class="bT" x="1328.41" y="1345.40" width="16.19" height="29.10"/>
<rect class="bC" x="1344.20" y="1345.40" width="47.77" height="29.10"/>
<rect class="bT" x="1391.57" y="1345.40" width="16.19" height="29.10"/>
<rect class="bG" x="1407.37" y="1345.40" width="16.19" height="29.10"/>
<rect class="bA" x="1423.15" y="1345.40" width="31.98" height="29.10"/>
<rect class="bC" x="1454.73" y="1345.40" width="16.19" height="29.10"/>
<rect class="bT" x="1470.53" y="1345.40" width="63.56" height="29.10"/>
<rect class="bC" x="1533.68" y="1345.40" width="16.19" height="29.10"/>
<rect class="bA" x="1549.47" y="1345.40" width="79.35" height="29.10"/>
<rect class="bT" x="1628.42" y="1345.40" width="31.98" height="29.10"/>
<rect class="bG" x="1660.00" y="1345.40" width="31.98" height="29.10"/>
<rect class="bT" x="1691.59" y="1345.40" width="16.19" height="29.10"/>
<rect class="bA" x="1707.38" y="1345.40" width="16.19" height="29.10"/>
<rect class="bC" x="1723.16" y="1345.40" width="16.19" height="29.10"/>
<rect class="bA" x="1738.95" y="1345.40" width="16.19" height="29.10"/>
<rect class="bT" x="1754.74" y="1345.40" width="16.19" height="29.10"/>
<rect class="bG" x="1770.53" y="1345.40" width="16.19" height="29.10"/>
<rect class="bC" x="1786.32" y="1345.40" width="16.19" height="29.10"/>
<rect class="bT" x="1802.11" y="1345.40" width="16.19" height="29.10"/>
<rect class="bT" x="614.61" y="1374.10" width="16.19" height="29.10"/>
<rect class="bC" x="630.39" y="1374.10" width="47.77" height="29.10"/>
<rect class="bA" x="677.76" y="1374.10" width="16.19" height="29.10"/>
<rect class="bT" x="693.56" y="1374.10" width="16.19" height="29.10"/>
<rect class="bC" x="709.35" y="1374.10" width="16.19" height="29.10"/>
<rect class="bA" x="725.13" y="1374.10" width="79.35" height="29.10"/>
<rect class="bT" x="804.09" y="1374.10" width="16.19" height="29.10"/>
<rect class="bC" x="819.88" y="1374.10" width="31.98" height="29.10"/>
<rect class="bT" x="851.46" y="1374.10" width="16.19" height="29.10"/>
<rect class="bG" x="867.25" y="1374.10" width="31.98" height="29.10"/>
<rect class="bA" x="898.83" y="1374.10" width="16.19" height="29.10"/>
<rect class="bC" x="914.62" y="1374.10" width="31.98" height="29.10"/>
<rect class="bT" x="946.19" y="1374.10" width="16.19" height="29.10"/>
<rect class="bA" x="961.99" y="1374.10" width="16.19" height="29.10"/>
<rect class="bT" x="977.77" y="1374.10" width="16.19" height="29.10"/>
<rect class="bG" x="993.57" y="1374.10" width="16.19" height="29.10"/>
<rect class="bT" x="1233.67" y="1374.10" width="16.19" height="29.10"/>
<rect class="bC" x="1249.46" y="1374.10" width="16.19" height="29.10"/>
<rect class="bA" x="1265.25" y="1374.10" width="16.19" height="29.10"/>
<rect class="bC" x="1281.05" y="1374.10" width="16.19" height="29.10"/>
<rect class="bA" x="1296.84" y="1374.10" width="31.98" height="29.10"/>
<rect class="bT" x="1328.41" y="1374.10" width="16.19" height="29.10"/>
<rect class="bC" x="1344.20" y="1374.10" width="47.77" height="29.10"/>
<rect class="bT" x="1391.57" y="1374.10" width="16.19" height="29.10"/>
<rect class="bG" x="1407.37" y="1374.10" width="16.19" height="29.10"/>
<rect class="bA" x="1423.15" y="1374.10" width="31.98" height="29.10"/>
<rect class="bC" x="1454.73" y="1374.10" width="16.19" height="29.10"/>
<rect class="bT" x="1470.53" y="1374.10" width="63.56" height="29.10"/>
<rect class="bC" x="1533.68" y="1374.10" width="16.19" height="29.10"/>
<rect class="bA" x="1549.47" y="1374.10" width="79.35" height="29.10"/>
<rect class="bT" x="1628.42" y="1374.10" width="31.98" height="29.10"/>
<rect class="bG" x="1660.00" y="1374.10" width="31.98" height="29.10"/>
<rect class="bT" x="1691.59" y="1374.10" width="16.19" height="29.10"/>
<rect class="bA" x="1707.38" y="1374.10" width="16.19" height="29.10"/>
<rect class="bC" x="1723.16" y="1374.10" width="16.19" height="29.10"/>
<rect class="bA" x="1738.95" y="1374.10" width="16.19" height="29.10"/>
<rect class="bT" x="1754.74" y="1374.10" width="16.19" height="29.10"/>
<rect class="bG" x="1770.53" y="1374.10" width="16.19" height="29.10"/>
<rect class="bC" x="1786.32" y="1374.10" width="16.19" height="29.10"/>
<rect class="bT" x="1802.11" y="1374.10" width="16.19" height="29.10"/>
<rect class="bT" x="614.61" y="1402.80" width="16.19" height="29.10"/>
<rect class="bC" x="630.39" y="1402.80" width="47.77" height="29.10"/>
<rect class="bA" x="677.76" y="1402.80" width="16.19" height="29.10"/>
<rect class="bT" x="693.56" y="1402.80" width="16.19" height="29.10"/>
<rect class="bC" x="709.35" y="1402.80" width="16.19" height="29.10"/>
<rect class="bA" x="725.13" y="1402.80" width="79.35" height="29.10"/>
<rect class="bT" x="804.09" y="1402.80" width="16.19" height="29.10"/>
<rect class="bC" x="819.88" y="1402.80" width="31.98" height="29.10"/>
<rect class="bT" x="851.46" y="1402.80" width="16.19" height="29.10"/>
<rect class="bG" x="867.25" y="1402.80" width="31.98" height="29.10"/>
<rect class="bA" x="898.83" y="1402.80" width="16.19" height="29.10"/>
<rect class="bC" x="914.62" y="1402.80" width="31.98" height="29.10"/>
<rect class="bT" x="946.19" y="1402.80" width="16.19" height="29.10"/>
<rect class="bA" x="961.99" y="1402.80" width="16.19" height="29.10"/>
<rect class="bT" x="977.77" y="1402.80" width="16.19" height="29.10"/>
<rect class="bG" x="993.57" y="1402.80" width="16.19" height="29.10"/>
<rect class="bT" x="1059.98" y="1402.80" width="16.19" height="29.10"/>
<rect class="bA" x="1075.77" y="1402.80" width="63.56" height="29.10"/>
<rect class="bC" x="1138.93" y="1402.80" width="16.19" height="29.10"/>
<rect class="bA" x="1154.72" y="1402.80" width="16.19" height="29.10"/>
<rect class="bC" x="1170.51" y="1402.80" width="16.19" height="29.10"/>
<rect class="bA" x="1186.30" y="1402.80" width="16.19" height="29.10"/>
<rect class="bT" x="1202.10" y="1402.80" width="47.77" height="29.10"/>
<rect class="bC" x="1249.46" y="1402.80" width="16.19" height="29.10"/>
<rect class="bA" x="1265.25" y="1402.80" width="16.19" height="29.10"/>
<rect class="bC" x="1281.05" y="1402.80" width="16.19" height="29.10"/>
<rect class="bA" x="1296.84" y="1402.80" width="31.98" height="29.10"/>
<rect class="bT" x="1328.41" y="1402.80" width="16.19" height="29.10"/>
<rect class="bC" x="1344.20" y="1402.80" width="47.77" height="29.10"/>
<rect class="bT" x="1391.57" y="1402.80" width="16.19" height="29.10"/>
<rect class="bG" x="1407.37" y="1402.80" width="16.19" height="29.10"/>
<rect class="bA" x="1423.15" y="1402.80" width="31.98" height="29.10"/>
<rect class="bC" x="1454.73" y="1402.80" width="16.19" height="29.10"/>
<rect class="bT" x="1470.53" y="1402.80" width="63.56" height="29.10"/>
<rect class="bC" x="1533.68" y="1402.80" width="16.19" height="29.10"/>
<rect class="bA" x="1549.47" y="1402.80" width="79.35" height="29.10"/>
<rect class="bT" x="1628.42" y="1402.80" width="31.98" height="29.10"/>
<rect class="bG" x="1660.00" y="1402.80" width="31.98" height="29.10"/>
<rect class="bT" x="1691.59" y="1402.80" width="16.19" height="29.10"/>
<rect class="bA" x="1707.38" y="1402.80" width="16.19" height="29.10"/>
<rect class="bC" x="1723.16" y="1402.80" width="16.19" height="29.10"/>
<rect class="bA" x="1738.95" y="1402.80" width="16.19" height="29.10"/>
<rect class="bT" x="1754.74" y="1402.80" width="16.19" height="29.10"/>
<rect class="bG" x="1770.53" y="1402.80" width="16.19" height="29.10"/>
<rect class="bC" x="1786.32" y="1402.80" width="16.19" height="29.10"/>
<rect class="bT" x="1802.11" y="1402.80" width="16.19" height="29.10"/>
<rect class="bT" x="614.61" y="1431.50" width="16.19" height="29.10"/>
<rect class="bC" x="630.39" y="1431.50" width="47.77" height="29.10"/>
<rect class="bA" x="677.76" y="1431.50" width="16.19" height="29.10"/>
<rect class="bT" x="693.56" y="1431.50" width="16.19" height="29.10"/>
<rect class="bC" x="709.35" y="1431.50" width="16.19" height="29.10"/>
<rect class="bA" x="725.13" y="1431.50" width="79.35" height="29.10"/>
<rect class="bT" x="804.09" y="1431.50" width="16.19" height="29.10"/>
<rect class="bC" x="819.88" y="1431.50" width="31.98" height="29.10"/>
<rect class="bT" x="851.46" y="1431.50" width="16.19" height="29.10"/>
<rect class="bG" x="867.25" y="1431.50" width="31.98" height="29.10"/>
<rect class="bA" x="898.83" y="1431.50" width="16.19" height="29.10"/>
<rect class="bC" x="914.62" y="1431.50" width="31.98" height="29.10"/>
<rect class="bT" x="946.19" y="1431.50" width="16.19" height="29.10"/>
<rect class="bA" x="961.99" y="1431.50" width="16.19" height="29.10"/>
<rect class="bT" x="977.77" y="1431.50" width="16.19" height="29.10"/>
<rect class="bG" x="993.57" y="1431.50" width="16.19" height="29.10"/>
<rect class="bC" x="1044.19" y="1431.50" width="16.19" height="29.10"/>
<rect class="bT" x="1059.98" y="1431.50" width="16.19" height="29.10"/>
<rect class="bA" x="1075.77" y="1431.50" width="63.56" height="29.10"/>
<rect class="bC" x="1138.93" y="1431.50" width="16.19" height="29.10"/>
<rect class="bA" x="1154.72" y="1431.50" width="16.19" height="29.10"/>
<rect class="bC" x="1170.51" y="1431.50" width="16.19" height="29.10"/>
<rect class="bA" x="1186.30" y="1431.50" width="16.19" height="29.10"/>
<rect class="bT" x="1202.10" y="1431.50" width="47.77" height="29.10"/>
<rect class="bC" x="1249.46" y="1431.50" width="16.19" height="29.10"/>
<rect class="bA" x="1265.25" y="1431.50" width="16.19" height="29.10"/>
<rect class="bC" x="1281.05" y="1431.50" width="16.19" height="29.10"/>
<rect class="bA" x="1296.84" y="1431.50" width="31.98" height="29.10"/>
<rect class="bT" x="1328.41" y="1431.50" width="16.19" height="29.10"/>
<rect class="bC" x="1344.20" y="1431.50" width="47.77" height="29.10"/>
<rect class="bT" x="1391.57" y="1431.50" width="16.19" height="29.10"/>
<rect class="bG" x="1407.37" y="1431.50" width="16.19" height="29.10"/>
<rect class="bA" x="1423.15" y="1431.50" width="31.98" height="29.10"/>
<rect class="bC" x="1454.73" y="1431.50" width="16.19" height="29.10"/>
<rect class="bT" x="1470.53" y="1431.50" width="63.56" height="29.10"/>
<rect class="bC" x="1533.68" y="1431.50" width="16.19" height="29.10"/>
<rect class="bA" x="1549.47" y="1431.50" width="79.35" height="29.10"/>
<rect class="bT" x="1628.42" y="1431.50" width="31.98" height="29.10"/>
<rect class="bG" x="1660.00" y="1431.50" width="31.98" height="29.10"/>
<rect class="bT" x="1691.59" y="1431.50" width="16.19" height="29.10"/>
<rect class="bA" x="1707.38" y="1431.50" width="16.19" height="29.10"/>
<rect class="bC" x="1723.16" y="1431.50" width="16.19" height="29.10"/>
<rect class="bA" x="1738.95" y="1431.50" width="16.19" height="29.10"/>
<rect class="bT" x="1754.74" y="1431.50" width="16.19" height="29.10"/>
<rect class="bG" x="1770.53" y="1431.50" width="16.19" height="29.10"/>
<rect class="bC" x="1786.32" y="1431.50" width="16.19" height="29.10"/>
<rect class="bT" x="1802.11" y="1431.50" width="16.19" height="29.10"/>
<text x="467.5" y="1307.2" font-size="13.5" font-weight="bold" fill="#30363a" text-anchor="end" textLength="15.4" lengthAdjust="spacingAndGlyphs">−6</text>
<rect x="479.6" y="1299.6" width="37.0" height="5" rx="2.5" fill="#45b5d3"/>
<text x="603.2" y="1307.2" font-size="13.5" fill="#707578" text-anchor="end" textLength="27.0" lengthAdjust="spacingAndGlyphs">39%</text>
<text class="fT" transform="scale(0.8 1)" x="778.1 876.8 1015.0 1074.2 1192.6 1512.5 1532.2 1552.0 1670.4 1749.3 1848.0 1867.8 1887.5 1907.2 2045.4 2065.1 2124.3 2203.3 2262.5" y="1308.2" font-size="16.3" text-anchor="middle">TTTTTTTTTTTTTTTTTTT</text>
<text class="fC" transform="scale(0.8 1)" x="797.9 817.6 837.3 896.5 1034.7 1054.4 1153.1 1172.9 1433.5 1473.0 1571.7 1611.2 1690.1 1709.9 1729.6 1828.3 1927.0 2163.8 2242.8" y="1308.2" font-size="16.3" text-anchor="middle">CCCCCCCCCCCCCCCCCCC</text>
<text class="fA" transform="scale(0.8 1)" x="857.1 916.3 936.0 955.8 975.5 995.2 1133.4 1212.3 1374.3 1394.1 1413.8 1453.3 1492.7 1591.4 1630.9 1650.6 1788.8 1808.5 1946.7 1966.4 1986.2 2005.9 2025.7 2144.1 2183.6" y="1308.2" font-size="16.3" text-anchor="middle">AAAAAAAAAAAAAAAAAAAAAAAAA</text>
<text class="fG" transform="scale(0.8 1)" x="1093.9 1113.7 1769.1 2084.9 2104.6 2223.0" y="1308.2" font-size="16.3" text-anchor="middle" font-weight="bold">GGGGGG</text>
<text x="467.5" y="1335.9" font-size="13.5" font-weight="bold" fill="#30363a" text-anchor="end" textLength="15.4" lengthAdjust="spacingAndGlyphs">−6</text>
<rect x="479.6" y="1328.3" width="33.8" height="5" rx="2.5" fill="#45b5d3"/>
<text x="603.2" y="1335.9" font-size="13.5" fill="#707578" text-anchor="end" textLength="27.0" lengthAdjust="spacingAndGlyphs">36%</text>
<text class="fT" transform="scale(0.8 1)" x="778.1 876.8 1015.0 1074.2 1192.6 1232.1 1512.5 1532.2 1552.0 1670.4 1749.3 1848.0 1867.8 1887.5 1907.2 2045.4 2065.1 2124.3 2203.3 2262.5" y="1336.9" font-size="16.3" text-anchor="middle">TTTTTTTTTTTTTTTTTTTT</text>
<text class="fC" transform="scale(0.8 1)" x="797.9 817.6 837.3 896.5 1034.7 1054.4 1153.1 1172.9 1433.5 1473.0 1571.7 1611.2 1690.1 1709.9 1729.6 1828.3 1927.0 2163.8 2242.8" y="1336.9" font-size="16.3" text-anchor="middle">CCCCCCCCCCCCCCCCCCC</text>
<text class="fA" transform="scale(0.8 1)" x="857.1 916.3 936.0 955.8 975.5 995.2 1133.4 1212.3 1394.1 1413.8 1453.3 1492.7 1591.4 1630.9 1650.6 1788.8 1808.5 1946.7 1966.4 1986.2 2005.9 2025.7 2144.1 2183.6" y="1336.9" font-size="16.3" text-anchor="middle">AAAAAAAAAAAAAAAAAAAAAAAA</text>
<text class="fG" transform="scale(0.8 1)" x="1093.9 1113.7 1769.1 2084.9 2104.6 2223.0" y="1336.9" font-size="16.3" text-anchor="middle" font-weight="bold">GGGGGG</text>
<text x="467.5" y="1364.6" font-size="13.5" font-weight="bold" fill="#30363a" text-anchor="end" textLength="15.4" lengthAdjust="spacingAndGlyphs">−6</text>
<rect x="479.6" y="1357.0" width="15.4" height="5" rx="2.5" fill="#45b5d3"/>
<text x="603.2" y="1364.6" font-size="13.5" fill="#707578" text-anchor="end" textLength="27.0" lengthAdjust="spacingAndGlyphs">16%</text>
<text class="fT" transform="scale(0.8 1)" x="778.1 876.8 1015.0 1074.2 1192.6 1232.1 1512.5 1532.2 1552.0 1670.4 1749.3 1848.0 1867.8 1887.5 1907.2 2045.4 2065.1 2124.3 2203.3 2262.5" y="1365.6" font-size="16.3" text-anchor="middle">TTTTTTTTTTTTTTTTTTTT</text>
<text class="fC" transform="scale(0.8 1)" x="797.9 817.6 837.3 896.5 1034.7 1054.4 1153.1 1172.9 1433.5 1473.0 1571.7 1611.2 1690.1 1709.9 1729.6 1828.3 1927.0 2163.8 2242.8" y="1365.6" font-size="16.3" text-anchor="middle">CCCCCCCCCCCCCCCCCCC</text>
<text class="fA" transform="scale(0.8 1)" x="857.1 916.3 936.0 955.8 975.5 995.2 1133.4 1212.3 1413.8 1453.3 1492.7 1591.4 1630.9 1650.6 1788.8 1808.5 1946.7 1966.4 1986.2 2005.9 2025.7 2144.1 2183.6" y="1365.6" font-size="16.3" text-anchor="middle">AAAAAAAAAAAAAAAAAAAAAAA</text>
<text class="fG" transform="scale(0.8 1)" x="1093.9 1113.7 1251.8 1769.1 2084.9 2104.6 2223.0" y="1365.6" font-size="16.3" text-anchor="middle" font-weight="bold">GGGGGGG</text>
<text x="467.5" y="1393.3" font-size="13.5" font-weight="bold" fill="#30363a" text-anchor="end" textLength="22.9" lengthAdjust="spacingAndGlyphs">−13</text>
<rect x="479.6" y="1385.7" width="3.8" height="5" rx="1.9" fill="#45b5d3"/>
<text x="603.2" y="1393.3" font-size="13.5" fill="#707578" text-anchor="end" textLength="19.5" lengthAdjust="spacingAndGlyphs">4%</text>
<text class="fT" transform="scale(0.8 1)" x="778.1 876.8 1015.0 1074.2 1192.6 1232.1 1552.0 1670.4 1749.3 1848.0 1867.8 1887.5 1907.2 2045.4 2065.1 2124.3 2203.3 2262.5" y="1394.3" font-size="16.3" text-anchor="middle">TTTTTTTTTTTTTTTTTT</text>
<text class="fC" transform="scale(0.8 1)" x="797.9 817.6 837.3 896.5 1034.7 1054.4 1153.1 1172.9 1571.7 1611.2 1690.1 1709.9 1729.6 1828.3 1927.0 2163.8 2242.8" y="1394.3" font-size="16.3" text-anchor="middle">CCCCCCCCCCCCCCCCC</text>
<text class="fA" transform="scale(0.8 1)" x="857.1 916.3 936.0 955.8 975.5 995.2 1133.4 1212.3 1591.4 1630.9 1650.6 1788.8 1808.5 1946.7 1966.4 1986.2 2005.9 2025.7 2144.1 2183.6" y="1394.3" font-size="16.3" text-anchor="middle">AAAAAAAAAAAAAAAAAAAA</text>
<text class="fG" transform="scale(0.8 1)" x="1093.9 1113.7 1251.8 1769.1 2084.9 2104.6 2223.0" y="1394.3" font-size="16.3" text-anchor="middle" font-weight="bold">GGGGGGG</text>
<text x="467.5" y="1422.0" font-size="13.5" font-weight="bold" fill="#30363a" text-anchor="end" textLength="15.4" lengthAdjust="spacingAndGlyphs">−2</text>
<rect x="479.6" y="1414.4" width="1.4" height="5" rx="0.7" fill="#45b5d3"/>
<text x="603.2" y="1422.0" font-size="13.5" fill="#707578" text-anchor="end" textLength="19.5" lengthAdjust="spacingAndGlyphs">2%</text>
<text class="fT" transform="scale(0.8 1)" x="778.1 876.8 1015.0 1074.2 1192.6 1232.1 1334.8 1512.5 1532.2 1552.0 1670.4 1749.3 1848.0 1867.8 1887.5 1907.2 2045.4 2065.1 2124.3 2203.3 2262.5" y="1423.0" font-size="16.3" text-anchor="middle">TTTTTTTTTTTTTTTTTTTTT</text>
<text class="fC" transform="scale(0.8 1)" x="797.9 817.6 837.3 896.5 1034.7 1054.4 1153.1 1172.9 1433.5 1473.0 1571.7 1611.2 1690.1 1709.9 1729.6 1828.3 1927.0 2163.8 2242.8" y="1423.0" font-size="16.3" text-anchor="middle">CCCCCCCCCCCCCCCCCCC</text>
<text class="fA" transform="scale(0.8 1)" x="857.1 916.3 936.0 955.8 975.5 995.2 1133.4 1212.3 1354.6 1374.3 1394.1 1413.8 1453.3 1492.7 1591.4 1630.9 1650.6 1788.8 1808.5 1946.7 1966.4 1986.2 2005.9 2025.7 2144.1 2183.6" y="1423.0" font-size="16.3" text-anchor="middle">AAAAAAAAAAAAAAAAAAAAAAAAAA</text>
<text class="fG" transform="scale(0.8 1)" x="1093.9 1113.7 1251.8 1769.1 2084.9 2104.6 2223.0" y="1423.0" font-size="16.3" text-anchor="middle" font-weight="bold">GGGGGGG</text>
<text x="467.5" y="1450.7" font-size="13.5" font-weight="bold" fill="#30363a" text-anchor="end" textLength="15.4" lengthAdjust="spacingAndGlyphs">−1</text>
<rect x="479.6" y="1443.1" width="1.0" height="5" rx="0.5" fill="#45b5d3"/>
<text x="603.2" y="1450.7" font-size="13.5" fill="#707578" text-anchor="end" textLength="19.5" lengthAdjust="spacingAndGlyphs">1%</text>
<text class="fT" transform="scale(0.8 1)" x="778.1 876.8 1015.0 1074.2 1192.6 1232.1 1334.8 1512.5 1532.2 1552.0 1670.4 1749.3 1848.0 1867.8 1887.5 1907.2 2045.4 2065.1 2124.3 2203.3 2262.5" y="1451.7" font-size="16.3" text-anchor="middle">TTTTTTTTTTTTTTTTTTTTT</text>
<text class="fC" transform="scale(0.8 1)" x="797.9 817.6 837.3 896.5 1034.7 1054.4 1153.1 1172.9 1315.1 1433.5 1473.0 1571.7 1611.2 1690.1 1709.9 1729.6 1828.3 1927.0 2163.8 2242.8" y="1451.7" font-size="16.3" text-anchor="middle">CCCCCCCCCCCCCCCCCCCC</text>
<text class="fA" transform="scale(0.8 1)" x="857.1 916.3 936.0 955.8 975.5 995.2 1133.4 1212.3 1354.6 1374.3 1394.1 1413.8 1453.3 1492.7 1591.4 1630.9 1650.6 1788.8 1808.5 1946.7 1966.4 1986.2 2005.9 2025.7 2144.1 2183.6" y="1451.7" font-size="16.3" text-anchor="middle">AAAAAAAAAAAAAAAAAAAAAAAAAA</text>
<text class="fG" transform="scale(0.8 1)" x="1093.9 1113.7 1251.8 1769.1 2084.9 2104.6 2223.0" y="1451.7" font-size="16.3" text-anchor="middle" font-weight="bold">GGGGGGG</text>
<path d="M982.7,1302.3h6M998.5,1302.3h6M1033.3,1302.3h6M1049.1,1302.3h6M1064.9,1302.3h6M1080.7,1302.3h6M998.5,1331.0h6M1033.3,1331.0h6M1049.1,1331.0h6M1064.9,1331.0h6M1080.7,1331.0h6M1096.5,1331.0h6M1033.3,1359.8h6M1049.1,1359.8h6M1064.9,1359.8h6M1080.7,1359.8h6M1096.5,1359.8h6M1112.2,1359.8h6M1033.3,1388.4h6M1049.1,1388.4h6M1064.9,1388.4h6M1080.7,1388.4h6M1096.5,1388.4h6M1112.2,1388.4h6M1128.0,1388.4h6M1143.8,1388.4h6M1159.6,1388.4h6M1175.4,1388.4h6M1191.2,1388.4h6M1207.0,1388.4h6M1222.8,1388.4h6M1033.3,1417.1h6M1049.1,1417.1h6M1033.3,1445.8h6" stroke="#8c8c8c" stroke-width="1.6" fill="none"/>
<line x1="1018.3" y1="1241.5" x2="1018.3" y2="1461.0" stroke="#000" stroke-width="4.4" stroke-dasharray="4.2 4.1"/>
<text x="371.0" y="1591.0" font-size="11" font-weight="bold" fill="#3b4247" letter-spacing="1.0" textLength="42.6" lengthAdjust="spacingAndGlyphs">INDEL</text>
<text x="439.0" y="1591.0" font-size="11" font-weight="bold" fill="#3b4247" letter-spacing="1.0" textLength="112.0" lengthAdjust="spacingAndGlyphs">CONTRIBUTION</text>
<text x="580.0" y="1591.0" font-size="11" font-weight="bold" fill="#3b4247" letter-spacing="1.0" textLength="78.4" lengthAdjust="spacingAndGlyphs">SEQUENCE</text>
<path d="M559.6,1585.8 L567.8,1585.8 L563.7,1590.3 Z" fill="#2b3034"/>
<rect class="bG" x="579.97" y="1599.80" width="33.32" height="22.47"/>
<rect class="bA" x="612.89" y="1599.80" width="33.32" height="22.47"/>
<rect class="bG" x="645.81" y="1599.80" width="33.32" height="22.47"/>
<rect class="bA" x="678.73" y="1599.80" width="16.86" height="22.47"/>
<rect class="bC" x="695.19" y="1599.80" width="49.78" height="22.47"/>
<rect class="bT" x="744.57" y="1599.80" width="16.86" height="22.47"/>
<rect class="bG" x="761.03" y="1599.80" width="16.86" height="22.47"/>
<rect class="bT" x="777.49" y="1599.80" width="16.86" height="22.47"/>
<rect class="bG" x="793.95" y="1599.80" width="16.86" height="22.47"/>
<rect class="bC" x="810.41" y="1599.80" width="33.32" height="22.47"/>
<rect class="bT" x="843.33" y="1599.80" width="16.86" height="22.47"/>
<rect class="bG" x="859.79" y="1599.80" width="33.32" height="22.47"/>
<rect class="bC" x="892.71" y="1599.80" width="16.86" height="22.47"/>
<rect class="bA" x="909.17" y="1599.80" width="49.78" height="22.47"/>
<rect class="bT" x="1175.17" y="1599.80" width="33.32" height="22.47"/>
<rect class="bC" x="1208.09" y="1599.80" width="16.86" height="22.47"/>
<rect class="bT" x="1224.55" y="1599.80" width="16.86" height="22.47"/>
<rect class="bC" x="1241.01" y="1599.80" width="16.86" height="22.47"/>
<rect class="bA" x="1257.47" y="1599.80" width="16.86" height="22.47"/>
<rect class="bG" x="1273.93" y="1599.80" width="33.32" height="22.47"/>
<rect class="bA" x="1306.85" y="1599.80" width="16.86" height="22.47"/>
<rect class="bT" x="1323.31" y="1599.80" width="49.78" height="22.47"/>
<rect class="bG" x="1372.69" y="1599.80" width="16.86" height="22.47"/>
<rect class="bT" x="1389.15" y="1599.80" width="16.86" height="22.47"/>
<rect class="bG" x="1405.61" y="1599.80" width="33.32" height="22.47"/>
<rect class="bC" x="1438.53" y="1599.80" width="16.86" height="22.47"/>
<rect class="bA" x="1454.99" y="1599.80" width="16.86" height="22.47"/>
<rect class="bC" x="1471.45" y="1599.80" width="33.32" height="22.47"/>
<rect class="bT" x="1504.37" y="1599.80" width="33.32" height="22.47"/>
<rect class="bC" x="1537.29" y="1599.80" width="16.86" height="22.47"/>
<rect class="bT" x="1553.75" y="1599.80" width="16.86" height="22.47"/>
<rect class="bG" x="1570.21" y="1599.80" width="16.86" height="22.47"/>
<rect class="bA" x="1586.67" y="1599.80" width="16.86" height="22.47"/>
<rect class="bC" x="1603.13" y="1599.80" width="16.86" height="22.47"/>
<rect class="bT" x="1619.59" y="1599.80" width="16.86" height="22.47"/>
<rect class="bG" x="1636.05" y="1599.80" width="16.86" height="22.47"/>
<rect class="bT" x="1652.51" y="1599.80" width="16.86" height="22.47"/>
<rect class="bC" x="1668.97" y="1599.80" width="16.86" height="22.47"/>
<rect class="bA" x="1685.43" y="1599.80" width="49.78" height="22.47"/>
<rect class="bC" x="1734.81" y="1599.80" width="16.86" height="22.47"/>
<rect class="bT" x="1751.27" y="1599.80" width="16.86" height="22.47"/>
<rect class="bG" x="1767.73" y="1599.80" width="16.86" height="22.47"/>
<rect class="bT" x="1784.19" y="1599.80" width="33.32" height="22.47"/>
<rect class="bC" x="1817.11" y="1599.80" width="16.86" height="22.47"/>
<rect class="bG" x="579.97" y="1621.87" width="33.32" height="22.47"/>
<rect class="bA" x="612.89" y="1621.87" width="33.32" height="22.47"/>
<rect class="bG" x="645.81" y="1621.87" width="33.32" height="22.47"/>
<rect class="bA" x="678.73" y="1621.87" width="16.86" height="22.47"/>
<rect class="bC" x="695.19" y="1621.87" width="49.78" height="22.47"/>
<rect class="bT" x="744.57" y="1621.87" width="16.86" height="22.47"/>
<rect class="bG" x="761.03" y="1621.87" width="16.86" height="22.47"/>
<rect class="bT" x="777.49" y="1621.87" width="16.86" height="22.47"/>
<rect class="bG" x="793.95" y="1621.87" width="16.86" height="22.47"/>
<rect class="bC" x="810.41" y="1621.87" width="33.32" height="22.47"/>
<rect class="bT" x="843.33" y="1621.87" width="16.86" height="22.47"/>
<rect class="bG" x="859.79" y="1621.87" width="33.32" height="22.47"/>
<rect class="bC" x="892.71" y="1621.87" width="16.86" height="22.47"/>
<rect class="bA" x="909.17" y="1621.87" width="16.86" height="22.47"/>
<rect class="bC" x="1027.03" y="1621.87" width="33.32" height="22.47"/>
<rect class="bA" x="1059.95" y="1621.87" width="16.86" height="22.47"/>
<rect class="bG" x="1076.41" y="1621.87" width="33.32" height="22.47"/>
<rect class="bT" x="1109.33" y="1621.87" width="16.86" height="22.47"/>
<rect class="bC" x="1125.79" y="1621.87" width="16.86" height="22.47"/>
<rect class="bG" x="1142.25" y="1621.87" width="16.86" height="22.47"/>
<rect class="bC" x="1158.71" y="1621.87" width="16.86" height="22.47"/>
<rect class="bT" x="1175.17" y="1621.87" width="33.32" height="22.47"/>
<rect class="bC" x="1208.09" y="1621.87" width="16.86" height="22.47"/>
<rect class="bT" x="1224.55" y="1621.87" width="16.86" height="22.47"/>
<rect class="bC" x="1241.01" y="1621.87" width="16.86" height="22.47"/>
<rect class="bA" x="1257.47" y="1621.87" width="16.86" height="22.47"/>
<rect class="bG" x="1273.93" y="1621.87" width="33.32" height="22.47"/>
<rect class="bA" x="1306.85" y="1621.87" width="16.86" height="22.47"/>
<rect class="bT" x="1323.31" y="1621.87" width="49.78" height="22.47"/>
<rect class="bG" x="1372.69" y="1621.87" width="16.86" height="22.47"/>
<rect class="bT" x="1389.15" y="1621.87" width="16.86" height="22.47"/>
<rect class="bG" x="1405.61" y="1621.87" width="33.32" height="22.47"/>
<rect class="bC" x="1438.53" y="1621.87" width="16.86" height="22.47"/>
<rect class="bA" x="1454.99" y="1621.87" width="16.86" height="22.47"/>
<rect class="bC" x="1471.45" y="1621.87" width="33.32" height="22.47"/>
<rect class="bT" x="1504.37" y="1621.87" width="33.32" height="22.47"/>
<rect class="bC" x="1537.29" y="1621.87" width="16.86" height="22.47"/>
<rect class="bT" x="1553.75" y="1621.87" width="16.86" height="22.47"/>
<rect class="bG" x="1570.21" y="1621.87" width="16.86" height="22.47"/>
<rect class="bA" x="1586.67" y="1621.87" width="16.86" height="22.47"/>
<rect class="bC" x="1603.13" y="1621.87" width="16.86" height="22.47"/>
<rect class="bT" x="1619.59" y="1621.87" width="16.86" height="22.47"/>
<rect class="bG" x="1636.05" y="1621.87" width="16.86" height="22.47"/>
<rect class="bT" x="1652.51" y="1621.87" width="16.86" height="22.47"/>
<rect class="bC" x="1668.97" y="1621.87" width="16.86" height="22.47"/>
<rect class="bA" x="1685.43" y="1621.87" width="49.78" height="22.47"/>
<rect class="bC" x="1734.81" y="1621.87" width="16.86" height="22.47"/>
<rect class="bT" x="1751.27" y="1621.87" width="16.86" height="22.47"/>
<rect class="bG" x="1767.73" y="1621.87" width="16.86" height="22.47"/>
<rect class="bT" x="1784.19" y="1621.87" width="33.32" height="22.47"/>
<rect class="bC" x="1817.11" y="1621.87" width="16.86" height="22.47"/>
<rect class="bG" x="579.97" y="1643.94" width="33.32" height="22.47"/>
<rect class="bA" x="612.89" y="1643.94" width="33.32" height="22.47"/>
<rect class="bG" x="645.81" y="1643.94" width="33.32" height="22.47"/>
<rect class="bA" x="678.73" y="1643.94" width="16.86" height="22.47"/>
<rect class="bC" x="695.19" y="1643.94" width="49.78" height="22.47"/>
<rect class="bT" x="744.57" y="1643.94" width="16.86" height="22.47"/>
<rect class="bG" x="761.03" y="1643.94" width="16.86" height="22.47"/>
<rect class="bT" x="777.49" y="1643.94" width="16.86" height="22.47"/>
<rect class="bG" x="793.95" y="1643.94" width="16.86" height="22.47"/>
<rect class="bC" x="810.41" y="1643.94" width="33.32" height="22.47"/>
<rect class="bT" x="843.33" y="1643.94" width="16.86" height="22.47"/>
<rect class="bG" x="859.79" y="1643.94" width="33.32" height="22.47"/>
<rect class="bT" x="1109.33" y="1643.94" width="16.86" height="22.47"/>
<rect class="bC" x="1125.79" y="1643.94" width="16.86" height="22.47"/>
<rect class="bG" x="1142.25" y="1643.94" width="16.86" height="22.47"/>
<rect class="bC" x="1158.71" y="1643.94" width="16.86" height="22.47"/>
<rect class="bT" x="1175.17" y="1643.94" width="33.32" height="22.47"/>
<rect class="bC" x="1208.09" y="1643.94" width="16.86" height="22.47"/>
<rect class="bT" x="1224.55" y="1643.94" width="16.86" height="22.47"/>
<rect class="bC" x="1241.01" y="1643.94" width="16.86" height="22.47"/>
<rect class="bA" x="1257.47" y="1643.94" width="16.86" height="22.47"/>
<rect class="bG" x="1273.93" y="1643.94" width="33.32" height="22.47"/>
<rect class="bA" x="1306.85" y="1643.94" width="16.86" height="22.47"/>
<rect class="bT" x="1323.31" y="1643.94" width="49.78" height="22.47"/>
<rect class="bG" x="1372.69" y="1643.94" width="16.86" height="22.47"/>
<rect class="bT" x="1389.15" y="1643.94" width="16.86" height="22.47"/>
<rect class="bG" x="1405.61" y="1643.94" width="33.32" height="22.47"/>
<rect class="bC" x="1438.53" y="1643.94" width="16.86" height="22.47"/>
<rect class="bA" x="1454.99" y="1643.94" width="16.86" height="22.47"/>
<rect class="bC" x="1471.45" y="1643.94" width="33.32" height="22.47"/>
<rect class="bT" x="1504.37" y="1643.94" width="33.32" height="22.47"/>
<rect class="bC" x="1537.29" y="1643.94" width="16.86" height="22.47"/>
<rect class="bT" x="1553.75" y="1643.94" width="16.86" height="22.47"/>
<rect class="bG" x="1570.21" y="1643.94" width="16.86" height="22.47"/>
<rect class="bA" x="1586.67" y="1643.94" width="16.86" height="22.47"/>
<rect class="bC" x="1603.13" y="1643.94" width="16.86" height="22.47"/>
<rect class="bT" x="1619.59" y="1643.94" width="16.86" height="22.47"/>
<rect class="bG" x="1636.05" y="1643.94" width="16.86" height="22.47"/>
<rect class="bT" x="1652.51" y="1643.94" width="16.86" height="22.47"/>
<rect class="bC" x="1668.97" y="1643.94" width="16.86" height="22.47"/>
<rect class="bA" x="1685.43" y="1643.94" width="49.78" height="22.47"/>
<rect class="bC" x="1734.81" y="1643.94" width="16.86" height="22.47"/>
<rect class="bT" x="1751.27" y="1643.94" width="16.86" height="22.47"/>
<rect class="bG" x="1767.73" y="1643.94" width="16.86" height="22.47"/>
<rect class="bT" x="1784.19" y="1643.94" width="33.32" height="22.47"/>
<rect class="bC" x="1817.11" y="1643.94" width="16.86" height="22.47"/>
<rect class="bG" x="579.97" y="1666.01" width="33.32" height="22.47"/>
<rect class="bA" x="612.89" y="1666.01" width="33.32" height="22.47"/>
<rect class="bG" x="645.81" y="1666.01" width="33.32" height="22.47"/>
<rect class="bA" x="678.73" y="1666.01" width="16.86" height="22.47"/>
<rect class="bC" x="695.19" y="1666.01" width="49.78" height="22.47"/>
<rect class="bT" x="744.57" y="1666.01" width="16.86" height="22.47"/>
<rect class="bG" x="761.03" y="1666.01" width="16.86" height="22.47"/>
<rect class="bT" x="777.49" y="1666.01" width="16.86" height="22.47"/>
<rect class="bG" x="793.95" y="1666.01" width="16.86" height="22.47"/>
<rect class="bC" x="810.41" y="1666.01" width="33.32" height="22.47"/>
<rect class="bT" x="843.33" y="1666.01" width="16.86" height="22.47"/>
<rect class="bG" x="859.79" y="1666.01" width="33.32" height="22.47"/>
<rect class="bC" x="892.71" y="1666.01" width="16.86" height="22.47"/>
<rect class="bA" x="909.17" y="1666.01" width="66.24" height="22.47"/>
<rect class="bG" x="975.01" y="1666.01" width="16.86" height="22.47"/>
<rect class="bT" x="1027.03" y="1666.01" width="16.86" height="22.47"/>
<rect class="bC" x="1043.49" y="1666.01" width="33.32" height="22.47"/>
<rect class="bA" x="1076.41" y="1666.01" width="16.86" height="22.47"/>
<rect class="bG" x="1092.87" y="1666.01" width="33.32" height="22.47"/>
<rect class="bT" x="1125.79" y="1666.01" width="16.86" height="22.47"/>
<rect class="bC" x="1142.25" y="1666.01" width="16.86" height="22.47"/>
<rect class="bG" x="1158.71" y="1666.01" width="16.86" height="22.47"/>
<rect class="bC" x="1175.17" y="1666.01" width="16.86" height="22.47"/>
<rect class="bT" x="1191.63" y="1666.01" width="33.32" height="22.47"/>
<rect class="bC" x="1224.55" y="1666.01" width="16.86" height="22.47"/>
<rect class="bT" x="1241.01" y="1666.01" width="16.86" height="22.47"/>
<rect class="bC" x="1257.47" y="1666.01" width="16.86" height="22.47"/>
<rect class="bA" x="1273.93" y="1666.01" width="16.86" height="22.47"/>
<rect class="bG" x="1290.39" y="1666.01" width="33.32" height="22.47"/>
<rect class="bA" x="1323.31" y="1666.01" width="16.86" height="22.47"/>
<rect class="bT" x="1339.77" y="1666.01" width="49.78" height="22.47"/>
<rect class="bG" x="1389.15" y="1666.01" width="16.86" height="22.47"/>
<rect class="bT" x="1405.61" y="1666.01" width="16.86" height="22.47"/>
<rect class="bG" x="1422.07" y="1666.01" width="33.32" height="22.47"/>
<rect class="bC" x="1454.99" y="1666.01" width="16.86" height="22.47"/>
<rect class="bA" x="1471.45" y="1666.01" width="16.86" height="22.47"/>
<rect class="bC" x="1487.91" y="1666.01" width="33.32" height="22.47"/>
<rect class="bT" x="1520.83" y="1666.01" width="33.32" height="22.47"/>
<rect class="bC" x="1553.75" y="1666.01" width="16.86" height="22.47"/>
<rect class="bT" x="1570.21" y="1666.01" width="16.86" height="22.47"/>
<rect class="bG" x="1586.67" y="1666.01" width="16.86" height="22.47"/>
<rect class="bA" x="1603.13" y="1666.01" width="16.86" height="22.47"/>
<rect class="bC" x="1619.59" y="1666.01" width="16.86" height="22.47"/>
<rect class="bT" x="1636.05" y="1666.01" width="16.86" height="22.47"/>
<rect class="bG" x="1652.51" y="1666.01" width="16.86" height="22.47"/>
<rect class="bT" x="1668.97" y="1666.01" width="16.86" height="22.47"/>
<rect class="bC" x="1685.43" y="1666.01" width="16.86" height="22.47"/>
<rect class="bA" x="1701.89" y="1666.01" width="49.78" height="22.47"/>
<rect class="bC" x="1751.27" y="1666.01" width="16.86" height="22.47"/>
<rect class="bT" x="1767.73" y="1666.01" width="16.86" height="22.47"/>
<rect class="bG" x="1784.19" y="1666.01" width="16.86" height="22.47"/>
<rect class="bT" x="1800.65" y="1666.01" width="33.32" height="22.47"/>
<rect class="bG" x="579.97" y="1688.08" width="33.32" height="22.47"/>
<rect class="bA" x="612.89" y="1688.08" width="33.32" height="22.47"/>
<rect class="bG" x="645.81" y="1688.08" width="33.32" height="22.47"/>
<rect class="bA" x="678.73" y="1688.08" width="16.86" height="22.47"/>
<rect class="bC" x="695.19" y="1688.08" width="49.78" height="22.47"/>
<rect class="bT" x="744.57" y="1688.08" width="16.86" height="22.47"/>
<rect class="bG" x="761.03" y="1688.08" width="16.86" height="22.47"/>
<rect class="bT" x="777.49" y="1688.08" width="16.86" height="22.47"/>
<rect class="bG" x="793.95" y="1688.08" width="16.86" height="22.47"/>
<rect class="bC" x="810.41" y="1688.08" width="33.32" height="22.47"/>
<rect class="bT" x="843.33" y="1688.08" width="16.86" height="22.47"/>
<rect class="bG" x="859.79" y="1688.08" width="33.32" height="22.47"/>
<rect class="bT" x="1010.57" y="1688.08" width="16.86" height="22.47"/>
<rect class="bC" x="1027.03" y="1688.08" width="33.32" height="22.47"/>
<rect class="bA" x="1059.95" y="1688.08" width="16.86" height="22.47"/>
<rect class="bG" x="1076.41" y="1688.08" width="33.32" height="22.47"/>
<rect class="bT" x="1109.33" y="1688.08" width="16.86" height="22.47"/>
<rect class="bC" x="1125.79" y="1688.08" width="16.86" height="22.47"/>
<rect class="bG" x="1142.25" y="1688.08" width="16.86" height="22.47"/>
<rect class="bC" x="1158.71" y="1688.08" width="16.86" height="22.47"/>
<rect class="bT" x="1175.17" y="1688.08" width="33.32" height="22.47"/>
<rect class="bC" x="1208.09" y="1688.08" width="16.86" height="22.47"/>
<rect class="bT" x="1224.55" y="1688.08" width="16.86" height="22.47"/>
<rect class="bC" x="1241.01" y="1688.08" width="16.86" height="22.47"/>
<rect class="bA" x="1257.47" y="1688.08" width="16.86" height="22.47"/>
<rect class="bG" x="1273.93" y="1688.08" width="33.32" height="22.47"/>
<rect class="bA" x="1306.85" y="1688.08" width="16.86" height="22.47"/>
<rect class="bT" x="1323.31" y="1688.08" width="49.78" height="22.47"/>
<rect class="bG" x="1372.69" y="1688.08" width="16.86" height="22.47"/>
<rect class="bT" x="1389.15" y="1688.08" width="16.86" height="22.47"/>
<rect class="bG" x="1405.61" y="1688.08" width="33.32" height="22.47"/>
<rect class="bC" x="1438.53" y="1688.08" width="16.86" height="22.47"/>
<rect class="bA" x="1454.99" y="1688.08" width="16.86" height="22.47"/>
<rect class="bC" x="1471.45" y="1688.08" width="33.32" height="22.47"/>
<rect class="bT" x="1504.37" y="1688.08" width="33.32" height="22.47"/>
<rect class="bC" x="1537.29" y="1688.08" width="16.86" height="22.47"/>
<rect class="bT" x="1553.75" y="1688.08" width="16.86" height="22.47"/>
<rect class="bG" x="1570.21" y="1688.08" width="16.86" height="22.47"/>
<rect class="bA" x="1586.67" y="1688.08" width="16.86" height="22.47"/>
<rect class="bC" x="1603.13" y="1688.08" width="16.86" height="22.47"/>
<rect class="bT" x="1619.59" y="1688.08" width="16.86" height="22.47"/>
<rect class="bG" x="1636.05" y="1688.08" width="16.86" height="22.47"/>
<rect class="bT" x="1652.51" y="1688.08" width="16.86" height="22.47"/>
<rect class="bC" x="1668.97" y="1688.08" width="16.86" height="22.47"/>
<rect class="bA" x="1685.43" y="1688.08" width="49.78" height="22.47"/>
<rect class="bC" x="1734.81" y="1688.08" width="16.86" height="22.47"/>
<rect class="bT" x="1751.27" y="1688.08" width="16.86" height="22.47"/>
<rect class="bG" x="1767.73" y="1688.08" width="16.86" height="22.47"/>
<rect class="bT" x="1784.19" y="1688.08" width="33.32" height="22.47"/>
<rect class="bC" x="1817.11" y="1688.08" width="16.86" height="22.47"/>
<rect class="bG" x="579.97" y="1710.15" width="33.32" height="22.47"/>
<rect class="bA" x="612.89" y="1710.15" width="33.32" height="22.47"/>
<rect class="bG" x="645.81" y="1710.15" width="33.32" height="22.47"/>
<rect class="bA" x="678.73" y="1710.15" width="16.86" height="22.47"/>
<rect class="bC" x="695.19" y="1710.15" width="49.78" height="22.47"/>
<rect class="bT" x="744.57" y="1710.15" width="16.86" height="22.47"/>
<rect class="bG" x="761.03" y="1710.15" width="16.86" height="22.47"/>
<rect class="bT" x="777.49" y="1710.15" width="16.86" height="22.47"/>
<rect class="bG" x="793.95" y="1710.15" width="16.86" height="22.47"/>
<rect class="bC" x="810.41" y="1710.15" width="33.32" height="22.47"/>
<rect class="bT" x="843.33" y="1710.15" width="16.86" height="22.47"/>
<rect class="bG" x="859.79" y="1710.15" width="33.32" height="22.47"/>
<rect class="bC" x="892.71" y="1710.15" width="16.86" height="22.47"/>
<rect class="bA" x="909.17" y="1710.15" width="66.24" height="22.47"/>
<rect class="bG" x="975.01" y="1710.15" width="16.86" height="22.47"/>
<rect class="bT" x="1109.33" y="1710.15" width="16.86" height="22.47"/>
<rect class="bC" x="1125.79" y="1710.15" width="16.86" height="22.47"/>
<rect class="bG" x="1142.25" y="1710.15" width="16.86" height="22.47"/>
<rect class="bC" x="1158.71" y="1710.15" width="16.86" height="22.47"/>
<rect class="bT" x="1175.17" y="1710.15" width="33.32" height="22.47"/>
<rect class="bC" x="1208.09" y="1710.15" width="16.86" height="22.47"/>
<rect class="bT" x="1224.55" y="1710.15" width="16.86" height="22.47"/>
<rect class="bC" x="1241.01" y="1710.15" width="16.86" height="22.47"/>
<rect class="bA" x="1257.47" y="1710.15" width="16.86" height="22.47"/>
<rect class="bG" x="1273.93" y="1710.15" width="33.32" height="22.47"/>
<rect class="bA" x="1306.85" y="1710.15" width="16.86" height="22.47"/>
<rect class="bT" x="1323.31" y="1710.15" width="49.78" height="22.47"/>
<rect class="bG" x="1372.69" y="1710.15" width="16.86" height="22.47"/>
<rect class="bT" x="1389.15" y="1710.15" width="16.86" height="22.47"/>
<rect class="bG" x="1405.61" y="1710.15" width="33.32" height="22.47"/>
<rect class="bC" x="1438.53" y="1710.15" width="16.86" height="22.47"/>
<rect class="bA" x="1454.99" y="1710.15" width="16.86" height="22.47"/>
<rect class="bC" x="1471.45" y="1710.15" width="33.32" height="22.47"/>
<rect class="bT" x="1504.37" y="1710.15" width="33.32" height="22.47"/>
<rect class="bC" x="1537.29" y="1710.15" width="16.86" height="22.47"/>
<rect class="bT" x="1553.75" y="1710.15" width="16.86" height="22.47"/>
<rect class="bG" x="1570.21" y="1710.15" width="16.86" height="22.47"/>
<rect class="bA" x="1586.67" y="1710.15" width="16.86" height="22.47"/>
<rect class="bC" x="1603.13" y="1710.15" width="16.86" height="22.47"/>
<rect class="bT" x="1619.59" y="1710.15" width="16.86" height="22.47"/>
<rect class="bG" x="1636.05" y="1710.15" width="16.86" height="22.47"/>
<rect class="bT" x="1652.51" y="1710.15" width="16.86" height="22.47"/>
<rect class="bC" x="1668.97" y="1710.15" width="16.86" height="22.47"/>
<rect class="bA" x="1685.43" y="1710.15" width="49.78" height="22.47"/>
<rect class="bC" x="1734.81" y="1710.15" width="16.86" height="22.47"/>
<rect class="bT" x="1751.27" y="1710.15" width="16.86" height="22.47"/>
<rect class="bG" x="1767.73" y="1710.15" width="16.86" height="22.47"/>
<rect class="bT" x="1784.19" y="1710.15" width="33.32" height="22.47"/>
<rect class="bC" x="1817.11" y="1710.15" width="16.86" height="22.47"/>
<rect class="bG" x="579.97" y="1732.22" width="33.32" height="22.47"/>
<rect class="bA" x="612.89" y="1732.22" width="33.32" height="22.47"/>
<rect class="bG" x="645.81" y="1732.22" width="33.32" height="22.47"/>
<rect class="bA" x="678.73" y="1732.22" width="16.86" height="22.47"/>
<rect class="bC" x="695.19" y="1732.22" width="49.78" height="22.47"/>
<rect class="bT" x="744.57" y="1732.22" width="16.86" height="22.47"/>
<rect class="bG" x="761.03" y="1732.22" width="16.86" height="22.47"/>
<rect class="bT" x="777.49" y="1732.22" width="16.86" height="22.47"/>
<rect class="bG" x="793.95" y="1732.22" width="16.86" height="22.47"/>
<rect class="bC" x="810.41" y="1732.22" width="33.32" height="22.47"/>
<rect class="bT" x="843.33" y="1732.22" width="16.86" height="22.47"/>
<rect class="bG" x="859.79" y="1732.22" width="33.32" height="22.47"/>
<rect class="bC" x="892.71" y="1732.22" width="16.86" height="22.47"/>
<rect class="bA" x="909.17" y="1732.22" width="66.24" height="22.47"/>
<rect class="bG" x="975.01" y="1732.22" width="16.86" height="22.47"/>
<rect class="bC" x="1027.03" y="1732.22" width="33.32" height="22.47"/>
<rect class="bA" x="1059.95" y="1732.22" width="16.86" height="22.47"/>
<rect class="bG" x="1076.41" y="1732.22" width="33.32" height="22.47"/>
<rect class="bT" x="1109.33" y="1732.22" width="16.86" height="22.47"/>
<rect class="bC" x="1125.79" y="1732.22" width="16.86" height="22.47"/>
<rect class="bG" x="1142.25" y="1732.22" width="16.86" height="22.47"/>
<rect class="bC" x="1158.71" y="1732.22" width="16.86" height="22.47"/>
<rect class="bT" x="1175.17" y="1732.22" width="33.32" height="22.47"/>
<rect class="bC" x="1208.09" y="1732.22" width="16.86" height="22.47"/>
<rect class="bT" x="1224.55" y="1732.22" width="16.86" height="22.47"/>
<rect class="bC" x="1241.01" y="1732.22" width="16.86" height="22.47"/>
<rect class="bA" x="1257.47" y="1732.22" width="16.86" height="22.47"/>
<rect class="bG" x="1273.93" y="1732.22" width="33.32" height="22.47"/>
<rect class="bA" x="1306.85" y="1732.22" width="16.86" height="22.47"/>
<rect class="bT" x="1323.31" y="1732.22" width="49.78" height="22.47"/>
<rect class="bG" x="1372.69" y="1732.22" width="16.86" height="22.47"/>
<rect class="bT" x="1389.15" y="1732.22" width="16.86" height="22.47"/>
<rect class="bG" x="1405.61" y="1732.22" width="33.32" height="22.47"/>
<rect class="bC" x="1438.53" y="1732.22" width="16.86" height="22.47"/>
<rect class="bA" x="1454.99" y="1732.22" width="16.86" height="22.47"/>
<rect class="bC" x="1471.45" y="1732.22" width="33.32" height="22.47"/>
<rect class="bT" x="1504.37" y="1732.22" width="33.32" height="22.47"/>
<rect class="bC" x="1537.29" y="1732.22" width="16.86" height="22.47"/>
<rect class="bT" x="1553.75" y="1732.22" width="16.86" height="22.47"/>
<rect class="bG" x="1570.21" y="1732.22" width="16.86" height="22.47"/>
<rect class="bA" x="1586.67" y="1732.22" width="16.86" height="22.47"/>
<rect class="bC" x="1603.13" y="1732.22" width="16.86" height="22.47"/>
<rect class="bT" x="1619.59" y="1732.22" width="16.86" height="22.47"/>
<rect class="bG" x="1636.05" y="1732.22" width="16.86" height="22.47"/>
<rect class="bT" x="1652.51" y="1732.22" width="16.86" height="22.47"/>
<rect class="bC" x="1668.97" y="1732.22" width="16.86" height="22.47"/>
<rect class="bA" x="1685.43" y="1732.22" width="49.78" height="22.47"/>
<rect class="bC" x="1734.81" y="1732.22" width="16.86" height="22.47"/>
<rect class="bT" x="1751.27" y="1732.22" width="16.86" height="22.47"/>
<rect class="bG" x="1767.73" y="1732.22" width="16.86" height="22.47"/>
<rect class="bT" x="1784.19" y="1732.22" width="33.32" height="22.47"/>
<rect class="bC" x="1817.11" y="1732.22" width="16.86" height="22.47"/>
<rect class="bG" x="579.97" y="1754.29" width="33.32" height="22.47"/>
<rect class="bA" x="612.89" y="1754.29" width="33.32" height="22.47"/>
<rect class="bG" x="645.81" y="1754.29" width="33.32" height="22.47"/>
<rect class="bA" x="678.73" y="1754.29" width="16.86" height="22.47"/>
<rect class="bC" x="695.19" y="1754.29" width="49.78" height="22.47"/>
<rect class="bT" x="744.57" y="1754.29" width="16.86" height="22.47"/>
<rect class="bG" x="761.03" y="1754.29" width="16.86" height="22.47"/>
<rect class="bT" x="777.49" y="1754.29" width="16.86" height="22.47"/>
<rect class="bG" x="793.95" y="1754.29" width="16.86" height="22.47"/>
<rect class="bC" x="810.41" y="1754.29" width="33.32" height="22.47"/>
<rect class="bT" x="843.33" y="1754.29" width="16.86" height="22.47"/>
<rect class="bG" x="859.79" y="1754.29" width="33.32" height="22.47"/>
<rect class="bC" x="892.71" y="1754.29" width="16.86" height="22.47"/>
<rect class="bC" x="1125.79" y="1754.29" width="16.86" height="22.47"/>
<rect class="bG" x="1142.25" y="1754.29" width="16.86" height="22.47"/>
<rect class="bC" x="1158.71" y="1754.29" width="16.86" height="22.47"/>
<rect class="bT" x="1175.17" y="1754.29" width="33.32" height="22.47"/>
<rect class="bC" x="1208.09" y="1754.29" width="16.86" height="22.47"/>
<rect class="bT" x="1224.55" y="1754.29" width="16.86" height="22.47"/>
<rect class="bC" x="1241.01" y="1754.29" width="16.86" height="22.47"/>
<rect class="bA" x="1257.47" y="1754.29" width="16.86" height="22.47"/>
<rect class="bG" x="1273.93" y="1754.29" width="33.32" height="22.47"/>
<rect class="bA" x="1306.85" y="1754.29" width="16.86" height="22.47"/>
<rect class="bT" x="1323.31" y="1754.29" width="49.78" height="22.47"/>
<rect class="bG" x="1372.69" y="1754.29" width="16.86" height="22.47"/>
<rect class="bT" x="1389.15" y="1754.29" width="16.86" height="22.47"/>
<rect class="bG" x="1405.61" y="1754.29" width="33.32" height="22.47"/>
<rect class="bC" x="1438.53" y="1754.29" width="16.86" height="22.47"/>
<rect class="bA" x="1454.99" y="1754.29" width="16.86" height="22.47"/>
<rect class="bC" x="1471.45" y="1754.29" width="33.32" height="22.47"/>
<rect class="bT" x="1504.37" y="1754.29" width="33.32" height="22.47"/>
<rect class="bC" x="1537.29" y="1754.29" width="16.86" height="22.47"/>
<rect class="bT" x="1553.75" y="1754.29" width="16.86" height="22.47"/>
<rect class="bG" x="1570.21" y="1754.29" width="16.86" height="22.47"/>
<rect class="bA" x="1586.67" y="1754.29" width="16.86" height="22.47"/>
<rect class="bC" x="1603.13" y="1754.29" width="16.86" height="22.47"/>
<rect class="bT" x="1619.59" y="1754.29" width="16.86" height="22.47"/>
<rect class="bG" x="1636.05" y="1754.29" width="16.86" height="22.47"/>
<rect class="bT" x="1652.51" y="1754.29" width="16.86" height="22.47"/>
<rect class="bC" x="1668.97" y="1754.29" width="16.86" height="22.47"/>
<rect class="bA" x="1685.43" y="1754.29" width="49.78" height="22.47"/>
<rect class="bC" x="1734.81" y="1754.29" width="16.86" height="22.47"/>
<rect class="bT" x="1751.27" y="1754.29" width="16.86" height="22.47"/>
<rect class="bG" x="1767.73" y="1754.29" width="16.86" height="22.47"/>
<rect class="bT" x="1784.19" y="1754.29" width="33.32" height="22.47"/>
<rect class="bC" x="1817.11" y="1754.29" width="16.86" height="22.47"/>
<rect class="bG" x="579.97" y="1776.36" width="33.32" height="22.47"/>
<rect class="bA" x="612.89" y="1776.36" width="33.32" height="22.47"/>
<rect class="bG" x="645.81" y="1776.36" width="33.32" height="22.47"/>
<rect class="bA" x="678.73" y="1776.36" width="16.86" height="22.47"/>
<rect class="bC" x="695.19" y="1776.36" width="49.78" height="22.47"/>
<rect class="bT" x="744.57" y="1776.36" width="16.86" height="22.47"/>
<rect class="bG" x="761.03" y="1776.36" width="16.86" height="22.47"/>
<rect class="bT" x="777.49" y="1776.36" width="16.86" height="22.47"/>
<rect class="bG" x="793.95" y="1776.36" width="16.86" height="22.47"/>
<rect class="bC" x="810.41" y="1776.36" width="33.32" height="22.47"/>
<rect class="bT" x="843.33" y="1776.36" width="16.86" height="22.47"/>
<rect class="bG" x="859.79" y="1776.36" width="33.32" height="22.47"/>
<rect class="bC" x="892.71" y="1776.36" width="16.86" height="22.47"/>
<rect class="bT" x="1010.57" y="1776.36" width="16.86" height="22.47"/>
<rect class="bC" x="1027.03" y="1776.36" width="33.32" height="22.47"/>
<rect class="bA" x="1059.95" y="1776.36" width="16.86" height="22.47"/>
<rect class="bG" x="1076.41" y="1776.36" width="33.32" height="22.47"/>
<rect class="bT" x="1109.33" y="1776.36" width="16.86" height="22.47"/>
<rect class="bC" x="1125.79" y="1776.36" width="16.86" height="22.47"/>
<rect class="bG" x="1142.25" y="1776.36" width="16.86" height="22.47"/>
<rect class="bC" x="1158.71" y="1776.36" width="16.86" height="22.47"/>
<rect class="bT" x="1175.17" y="1776.36" width="33.32" height="22.47"/>
<rect class="bC" x="1208.09" y="1776.36" width="16.86" height="22.47"/>
<rect class="bT" x="1224.55" y="1776.36" width="16.86" height="22.47"/>
<rect class="bC" x="1241.01" y="1776.36" width="16.86" height="22.47"/>
<rect class="bA" x="1257.47" y="1776.36" width="16.86" height="22.47"/>
<rect class="bG" x="1273.93" y="1776.36" width="33.32" height="22.47"/>
<rect class="bA" x="1306.85" y="1776.36" width="16.86" height="22.47"/>
<rect class="bT" x="1323.31" y="1776.36" width="49.78" height="22.47"/>
<rect class="bG" x="1372.69" y="1776.36" width="16.86" height="22.47"/>
<rect class="bT" x="1389.15" y="1776.36" width="16.86" height="22.47"/>
<rect class="bG" x="1405.61" y="1776.36" width="33.32" height="22.47"/>
<rect class="bC" x="1438.53" y="1776.36" width="16.86" height="22.47"/>
<rect class="bA" x="1454.99" y="1776.36" width="16.86" height="22.47"/>
<rect class="bC" x="1471.45" y="1776.36" width="33.32" height="22.47"/>
<rect class="bT" x="1504.37" y="1776.36" width="33.32" height="22.47"/>
<rect class="bC" x="1537.29" y="1776.36" width="16.86" height="22.47"/>
<rect class="bT" x="1553.75" y="1776.36" width="16.86" height="22.47"/>
<rect class="bG" x="1570.21" y="1776.36" width="16.86" height="22.47"/>
<rect class="bA" x="1586.67" y="1776.36" width="16.86" height="22.47"/>
<rect class="bC" x="1603.13" y="1776.36" width="16.86" height="22.47"/>
<rect class="bT" x="1619.59" y="1776.36" width="16.86" height="22.47"/>
<rect class="bG" x="1636.05" y="1776.36" width="16.86" height="22.47"/>
<rect class="bT" x="1652.51" y="1776.36" width="16.86" height="22.47"/>
<rect class="bC" x="1668.97" y="1776.36" width="16.86" height="22.47"/>
<rect class="bA" x="1685.43" y="1776.36" width="49.78" height="22.47"/>
<rect class="bC" x="1734.81" y="1776.36" width="16.86" height="22.47"/>
<rect class="bT" x="1751.27" y="1776.36" width="16.86" height="22.47"/>
<rect class="bG" x="1767.73" y="1776.36" width="16.86" height="22.47"/>
<rect class="bT" x="1784.19" y="1776.36" width="33.32" height="22.47"/>
<rect class="bC" x="1817.11" y="1776.36" width="16.86" height="22.47"/>
<rect class="bG" x="579.97" y="1798.43" width="33.32" height="22.47"/>
<rect class="bA" x="612.89" y="1798.43" width="33.32" height="22.47"/>
<rect class="bG" x="645.81" y="1798.43" width="33.32" height="22.47"/>
<rect class="bA" x="678.73" y="1798.43" width="16.86" height="22.47"/>
<rect class="bC" x="695.19" y="1798.43" width="49.78" height="22.47"/>
<rect class="bT" x="744.57" y="1798.43" width="16.86" height="22.47"/>
<rect class="bG" x="761.03" y="1798.43" width="16.86" height="22.47"/>
<rect class="bT" x="777.49" y="1798.43" width="16.86" height="22.47"/>
<rect class="bG" x="793.95" y="1798.43" width="16.86" height="22.47"/>
<rect class="bC" x="810.41" y="1798.43" width="33.32" height="22.47"/>
<rect class="bT" x="843.33" y="1798.43" width="16.86" height="22.47"/>
<rect class="bG" x="859.79" y="1798.43" width="33.32" height="22.47"/>
<rect class="bC" x="892.71" y="1798.43" width="16.86" height="22.47"/>
<rect class="bA" x="909.17" y="1798.43" width="49.78" height="22.47"/>
<rect class="bT" x="1010.57" y="1798.43" width="16.86" height="22.47"/>
<rect class="bC" x="1027.03" y="1798.43" width="33.32" height="22.47"/>
<rect class="bA" x="1059.95" y="1798.43" width="16.86" height="22.47"/>
<rect class="bG" x="1076.41" y="1798.43" width="33.32" height="22.47"/>
<rect class="bT" x="1109.33" y="1798.43" width="16.86" height="22.47"/>
<rect class="bC" x="1125.79" y="1798.43" width="16.86" height="22.47"/>
<rect class="bG" x="1142.25" y="1798.43" width="16.86" height="22.47"/>
<rect class="bC" x="1158.71" y="1798.43" width="16.86" height="22.47"/>
<rect class="bT" x="1175.17" y="1798.43" width="33.32" height="22.47"/>
<rect class="bC" x="1208.09" y="1798.43" width="16.86" height="22.47"/>
<rect class="bT" x="1224.55" y="1798.43" width="16.86" height="22.47"/>
<rect class="bC" x="1241.01" y="1798.43" width="16.86" height="22.47"/>
<rect class="bA" x="1257.47" y="1798.43" width="16.86" height="22.47"/>
<rect class="bG" x="1273.93" y="1798.43" width="33.32" height="22.47"/>
<rect class="bA" x="1306.85" y="1798.43" width="16.86" height="22.47"/>
<rect class="bT" x="1323.31" y="1798.43" width="49.78" height="22.47"/>
<rect class="bG" x="1372.69" y="1798.43" width="16.86" height="22.47"/>
<rect class="bT" x="1389.15" y="1798.43" width="16.86" height="22.47"/>
<rect class="bG" x="1405.61" y="1798.43" width="33.32" height="22.47"/>
<rect class="bC" x="1438.53" y="1798.43" width="16.86" height="22.47"/>
<rect class="bA" x="1454.99" y="1798.43" width="16.86" height="22.47"/>
<rect class="bC" x="1471.45" y="1798.43" width="33.32" height="22.47"/>
<rect class="bT" x="1504.37" y="1798.43" width="33.32" height="22.47"/>
<rect class="bC" x="1537.29" y="1798.43" width="16.86" height="22.47"/>
<rect class="bT" x="1553.75" y="1798.43" width="16.86" height="22.47"/>
<rect class="bG" x="1570.21" y="1798.43" width="16.86" height="22.47"/>
<rect class="bA" x="1586.67" y="1798.43" width="16.86" height="22.47"/>
<rect class="bC" x="1603.13" y="1798.43" width="16.86" height="22.47"/>
<rect class="bT" x="1619.59" y="1798.43" width="16.86" height="22.47"/>
<rect class="bG" x="1636.05" y="1798.43" width="16.86" height="22.47"/>
<rect class="bT" x="1652.51" y="1798.43" width="16.86" height="22.47"/>
<rect class="bC" x="1668.97" y="1798.43" width="16.86" height="22.47"/>
<rect class="bA" x="1685.43" y="1798.43" width="49.78" height="22.47"/>
<rect class="bC" x="1734.81" y="1798.43" width="16.86" height="22.47"/>
<rect class="bT" x="1751.27" y="1798.43" width="16.86" height="22.47"/>
<rect class="bG" x="1767.73" y="1798.43" width="16.86" height="22.47"/>
<rect class="bT" x="1784.19" y="1798.43" width="33.32" height="22.47"/>
<rect class="bC" x="1817.11" y="1798.43" width="16.86" height="22.47"/>
<rect class="bG" x="579.97" y="1820.50" width="33.32" height="22.47"/>
<rect class="bA" x="612.89" y="1820.50" width="33.32" height="22.47"/>
<rect class="bG" x="645.81" y="1820.50" width="33.32" height="22.47"/>
<rect class="bA" x="678.73" y="1820.50" width="16.86" height="22.47"/>
<rect class="bC" x="695.19" y="1820.50" width="49.78" height="22.47"/>
<rect class="bT" x="744.57" y="1820.50" width="16.86" height="22.47"/>
<rect class="bG" x="761.03" y="1820.50" width="16.86" height="22.47"/>
<rect class="bT" x="777.49" y="1820.50" width="16.86" height="22.47"/>
<rect class="bG" x="793.95" y="1820.50" width="16.86" height="22.47"/>
<rect class="bC" x="810.41" y="1820.50" width="33.32" height="22.47"/>
<rect class="bA" x="1059.95" y="1820.50" width="16.86" height="22.47"/>
<rect class="bG" x="1076.41" y="1820.50" width="33.32" height="22.47"/>
<rect class="bT" x="1109.33" y="1820.50" width="16.86" height="22.47"/>
<rect class="bC" x="1125.79" y="1820.50" width="16.86" height="22.47"/>
<rect class="bG" x="1142.25" y="1820.50" width="16.86" height="22.47"/>
<rect class="bC" x="1158.71" y="1820.50" width="16.86" height="22.47"/>
<rect class="bT" x="1175.17" y="1820.50" width="33.32" height="22.47"/>
<rect class="bC" x="1208.09" y="1820.50" width="16.86" height="22.47"/>
<rect class="bT" x="1224.55" y="1820.50" width="16.86" height="22.47"/>
<rect class="bC" x="1241.01" y="1820.50" width="16.86" height="22.47"/>
<rect class="bA" x="1257.47" y="1820.50" width="16.86" height="22.47"/>
<rect class="bG" x="1273.93" y="1820.50" width="33.32" height="22.47"/>
<rect class="bA" x="1306.85" y="1820.50" width="16.86" height="22.47"/>
<rect class="bT" x="1323.31" y="1820.50" width="49.78" height="22.47"/>
<rect class="bG" x="1372.69" y="1820.50" width="16.86" height="22.47"/>
<rect class="bT" x="1389.15" y="1820.50" width="16.86" height="22.47"/>
<rect class="bG" x="1405.61" y="1820.50" width="33.32" height="22.47"/>
<rect class="bC" x="1438.53" y="1820.50" width="16.86" height="22.47"/>
<rect class="bA" x="1454.99" y="1820.50" width="16.86" height="22.47"/>
<rect class="bC" x="1471.45" y="1820.50" width="33.32" height="22.47"/>
<rect class="bT" x="1504.37" y="1820.50" width="33.32" height="22.47"/>
<rect class="bC" x="1537.29" y="1820.50" width="16.86" height="22.47"/>
<rect class="bT" x="1553.75" y="1820.50" width="16.86" height="22.47"/>
<rect class="bG" x="1570.21" y="1820.50" width="16.86" height="22.47"/>
<rect class="bA" x="1586.67" y="1820.50" width="16.86" height="22.47"/>
<rect class="bC" x="1603.13" y="1820.50" width="16.86" height="22.47"/>
<rect class="bT" x="1619.59" y="1820.50" width="16.86" height="22.47"/>
<rect class="bG" x="1636.05" y="1820.50" width="16.86" height="22.47"/>
<rect class="bT" x="1652.51" y="1820.50" width="16.86" height="22.47"/>
<rect class="bC" x="1668.97" y="1820.50" width="16.86" height="22.47"/>
<rect class="bA" x="1685.43" y="1820.50" width="49.78" height="22.47"/>
<rect class="bC" x="1734.81" y="1820.50" width="16.86" height="22.47"/>
<rect class="bT" x="1751.27" y="1820.50" width="16.86" height="22.47"/>
<rect class="bG" x="1767.73" y="1820.50" width="16.86" height="22.47"/>
<rect class="bT" x="1784.19" y="1820.50" width="33.32" height="22.47"/>
<rect class="bC" x="1817.11" y="1820.50" width="16.86" height="22.47"/>
<rect class="bG" x="579.97" y="1842.57" width="33.32" height="22.47"/>
<rect class="bA" x="612.89" y="1842.57" width="33.32" height="22.47"/>
<rect class="bG" x="645.81" y="1842.57" width="33.32" height="22.47"/>
<rect class="bA" x="678.73" y="1842.57" width="16.86" height="22.47"/>
<rect class="bC" x="695.19" y="1842.57" width="49.78" height="22.47"/>
<rect class="bT" x="744.57" y="1842.57" width="16.86" height="22.47"/>
<rect class="bG" x="761.03" y="1842.57" width="16.86" height="22.47"/>
<rect class="bT" x="777.49" y="1842.57" width="16.86" height="22.47"/>
<rect class="bG" x="793.95" y="1842.57" width="16.86" height="22.47"/>
<rect class="bC" x="810.41" y="1842.57" width="33.32" height="22.47"/>
<rect class="bT" x="843.33" y="1842.57" width="16.86" height="22.47"/>
<rect class="bG" x="859.79" y="1842.57" width="33.32" height="22.47"/>
<rect class="bC" x="892.71" y="1842.57" width="16.86" height="22.47"/>
<rect class="bA" x="909.17" y="1842.57" width="49.78" height="22.47"/>
<rect class="bT" x="1109.33" y="1842.57" width="16.86" height="22.47"/>
<rect class="bC" x="1125.79" y="1842.57" width="16.86" height="22.47"/>
<rect class="bG" x="1142.25" y="1842.57" width="16.86" height="22.47"/>
<rect class="bC" x="1158.71" y="1842.57" width="16.86" height="22.47"/>
<rect class="bT" x="1175.17" y="1842.57" width="33.32" height="22.47"/>
<rect class="bC" x="1208.09" y="1842.57" width="16.86" height="22.47"/>
<rect class="bT" x="1224.55" y="1842.57" width="16.86" height="22.47"/>
<rect class="bC" x="1241.01" y="1842.57" width="16.86" height="22.47"/>
<rect class="bA" x="1257.47" y="1842.57" width="16.86" height="22.47"/>
<rect class="bG" x="1273.93" y="1842.57" width="33.32" height="22.47"/>
<rect class="bA" x="1306.85" y="1842.57" width="16.86" height="22.47"/>
<rect class="bT" x="1323.31" y="1842.57" width="49.78" height="22.47"/>
<rect class="bG" x="1372.69" y="1842.57" width="16.86" height="22.47"/>
<rect class="bT" x="1389.15" y="1842.57" width="16.86" height="22.47"/>
<rect class="bG" x="1405.61" y="1842.57" width="33.32" height="22.47"/>
<rect class="bC" x="1438.53" y="1842.57" width="16.86" height="22.47"/>
<rect class="bA" x="1454.99" y="1842.57" width="16.86" height="22.47"/>
<rect class="bC" x="1471.45" y="1842.57" width="33.32" height="22.47"/>
<rect class="bT" x="1504.37" y="1842.57" width="33.32" height="22.47"/>
<rect class="bC" x="1537.29" y="1842.57" width="16.86" height="22.47"/>
<rect class="bT" x="1553.75" y="1842.57" width="16.86" height="22.47"/>
<rect class="bG" x="1570.21" y="1842.57" width="16.86" height="22.47"/>
<rect class="bA" x="1586.67" y="1842.57" width="16.86" height="22.47"/>
<rect class="bC" x="1603.13" y="1842.57" width="16.86" height="22.47"/>
<rect class="bT" x="1619.59" y="1842.57" width="16.86" height="22.47"/>
<rect class="bG" x="1636.05" y="1842.57" width="16.86" height="22.47"/>
<rect class="bT" x="1652.51" y="1842.57" width="16.86" height="22.47"/>
<rect class="bC" x="1668.97" y="1842.57" width="16.86" height="22.47"/>
<rect class="bA" x="1685.43" y="1842.57" width="49.78" height="22.47"/>
<rect class="bC" x="1734.81" y="1842.57" width="16.86" height="22.47"/>
<rect class="bT" x="1751.27" y="1842.57" width="16.86" height="22.47"/>
<rect class="bG" x="1767.73" y="1842.57" width="16.86" height="22.47"/>
<rect class="bT" x="1784.19" y="1842.57" width="33.32" height="22.47"/>
<rect class="bC" x="1817.11" y="1842.57" width="16.86" height="22.47"/>
<rect class="bG" x="579.97" y="1864.64" width="33.32" height="22.47"/>
<rect class="bA" x="612.89" y="1864.64" width="33.32" height="22.47"/>
<rect class="bG" x="645.81" y="1864.64" width="33.32" height="22.47"/>
<rect class="bA" x="678.73" y="1864.64" width="16.86" height="22.47"/>
<rect class="bC" x="695.19" y="1864.64" width="49.78" height="22.47"/>
<rect class="bT" x="744.57" y="1864.64" width="16.86" height="22.47"/>
<rect class="bG" x="761.03" y="1864.64" width="16.86" height="22.47"/>
<rect class="bT" x="777.49" y="1864.64" width="16.86" height="22.47"/>
<rect class="bG" x="793.95" y="1864.64" width="16.86" height="22.47"/>
<rect class="bC" x="810.41" y="1864.64" width="33.32" height="22.47"/>
<rect class="bT" x="843.33" y="1864.64" width="16.86" height="22.47"/>
<rect class="bG" x="859.79" y="1864.64" width="33.32" height="22.47"/>
<rect class="bC" x="892.71" y="1864.64" width="16.86" height="22.47"/>
<rect class="bA" x="909.17" y="1864.64" width="66.24" height="22.47"/>
<rect class="bG" x="975.01" y="1864.64" width="16.86" height="22.47"/>
<rect class="bT" x="1010.57" y="1864.64" width="16.86" height="22.47"/>
<rect class="bC" x="1027.03" y="1864.64" width="33.32" height="22.47"/>
<rect class="bA" x="1059.95" y="1864.64" width="16.86" height="22.47"/>
<rect class="bG" x="1076.41" y="1864.64" width="33.32" height="22.47"/>
<rect class="bT" x="1109.33" y="1864.64" width="16.86" height="22.47"/>
<rect class="bC" x="1125.79" y="1864.64" width="16.86" height="22.47"/>
<rect class="bG" x="1142.25" y="1864.64" width="16.86" height="22.47"/>
<rect class="bC" x="1158.71" y="1864.64" width="16.86" height="22.47"/>
<rect class="bT" x="1175.17" y="1864.64" width="33.32" height="22.47"/>
<rect class="bC" x="1208.09" y="1864.64" width="16.86" height="22.47"/>
<rect class="bT" x="1224.55" y="1864.64" width="16.86" height="22.47"/>
<rect class="bC" x="1241.01" y="1864.64" width="16.86" height="22.47"/>
<rect class="bA" x="1257.47" y="1864.64" width="16.86" height="22.47"/>
<rect class="bG" x="1273.93" y="1864.64" width="33.32" height="22.47"/>
<rect class="bA" x="1306.85" y="1864.64" width="16.86" height="22.47"/>
<rect class="bT" x="1323.31" y="1864.64" width="49.78" height="22.47"/>
<rect class="bG" x="1372.69" y="1864.64" width="16.86" height="22.47"/>
<rect class="bT" x="1389.15" y="1864.64" width="16.86" height="22.47"/>
<rect class="bG" x="1405.61" y="1864.64" width="33.32" height="22.47"/>
<rect class="bC" x="1438.53" y="1864.64" width="16.86" height="22.47"/>
<rect class="bA" x="1454.99" y="1864.64" width="16.86" height="22.47"/>
<rect class="bC" x="1471.45" y="1864.64" width="33.32" height="22.47"/>
<rect class="bT" x="1504.37" y="1864.64" width="33.32" height="22.47"/>
<rect class="bC" x="1537.29" y="1864.64" width="16.86" height="22.47"/>
<rect class="bT" x="1553.75" y="1864.64" width="16.86" height="22.47"/>
<rect class="bG" x="1570.21" y="1864.64" width="16.86" height="22.47"/>
<rect class="bA" x="1586.67" y="1864.64" width="16.86" height="22.47"/>
<rect class="bC" x="1603.13" y="1864.64" width="16.86" height="22.47"/>
<rect class="bT" x="1619.59" y="1864.64" width="16.86" height="22.47"/>
<rect class="bG" x="1636.05" y="1864.64" width="16.86" height="22.47"/>
<rect class="bT" x="1652.51" y="1864.64" width="16.86" height="22.47"/>
<rect class="bC" x="1668.97" y="1864.64" width="16.86" height="22.47"/>
<rect class="bA" x="1685.43" y="1864.64" width="49.78" height="22.47"/>
<rect class="bC" x="1734.81" y="1864.64" width="16.86" height="22.47"/>
<rect class="bT" x="1751.27" y="1864.64" width="16.86" height="22.47"/>
<rect class="bG" x="1767.73" y="1864.64" width="16.86" height="22.47"/>
<rect class="bT" x="1784.19" y="1864.64" width="33.32" height="22.47"/>
<rect class="bC" x="1817.11" y="1864.64" width="16.86" height="22.47"/>
<rect class="bG" x="579.97" y="1886.71" width="33.32" height="22.47"/>
<rect class="bA" x="612.89" y="1886.71" width="33.32" height="22.47"/>
<rect class="bG" x="645.81" y="1886.71" width="33.32" height="22.47"/>
<rect class="bA" x="678.73" y="1886.71" width="16.86" height="22.47"/>
<rect class="bC" x="695.19" y="1886.71" width="49.78" height="22.47"/>
<rect class="bT" x="744.57" y="1886.71" width="16.86" height="22.47"/>
<rect class="bG" x="761.03" y="1886.71" width="16.86" height="22.47"/>
<rect class="bT" x="777.49" y="1886.71" width="16.86" height="22.47"/>
<rect class="bG" x="793.95" y="1886.71" width="16.86" height="22.47"/>
<rect class="bC" x="810.41" y="1886.71" width="33.32" height="22.47"/>
<rect class="bT" x="843.33" y="1886.71" width="16.86" height="22.47"/>
<rect class="bG" x="859.79" y="1886.71" width="33.32" height="22.47"/>
<rect class="bC" x="892.71" y="1886.71" width="16.86" height="22.47"/>
<rect class="bA" x="909.17" y="1886.71" width="66.24" height="22.47"/>
<rect class="bG" x="975.01" y="1886.71" width="16.86" height="22.47"/>
<rect class="bT" x="1043.49" y="1886.71" width="16.86" height="22.47"/>
<rect class="bC" x="1059.95" y="1886.71" width="33.32" height="22.47"/>
<rect class="bA" x="1092.87" y="1886.71" width="16.86" height="22.47"/>
<rect class="bG" x="1109.33" y="1886.71" width="33.32" height="22.47"/>
<rect class="bT" x="1142.25" y="1886.71" width="16.86" height="22.47"/>
<rect class="bC" x="1158.71" y="1886.71" width="16.86" height="22.47"/>
<rect class="bG" x="1175.17" y="1886.71" width="16.86" height="22.47"/>
<rect class="bC" x="1191.63" y="1886.71" width="16.86" height="22.47"/>
<rect class="bT" x="1208.09" y="1886.71" width="33.32" height="22.47"/>
<rect class="bC" x="1241.01" y="1886.71" width="16.86" height="22.47"/>
<rect class="bT" x="1257.47" y="1886.71" width="16.86" height="22.47"/>
<rect class="bC" x="1273.93" y="1886.71" width="16.86" height="22.47"/>
<rect class="bA" x="1290.39" y="1886.71" width="16.86" height="22.47"/>
<rect class="bG" x="1306.85" y="1886.71" width="33.32" height="22.47"/>
<rect class="bA" x="1339.77" y="1886.71" width="16.86" height="22.47"/>
<rect class="bT" x="1356.23" y="1886.71" width="49.78" height="22.47"/>
<rect class="bG" x="1405.61" y="1886.71" width="16.86" height="22.47"/>
<rect class="bT" x="1422.07" y="1886.71" width="16.86" height="22.47"/>
<rect class="bG" x="1438.53" y="1886.71" width="33.32" height="22.47"/>
<rect class="bC" x="1471.45" y="1886.71" width="16.86" height="22.47"/>
<rect class="bA" x="1487.91" y="1886.71" width="16.86" height="22.47"/>
<rect class="bC" x="1504.37" y="1886.71" width="33.32" height="22.47"/>
<rect class="bT" x="1537.29" y="1886.71" width="33.32" height="22.47"/>
<rect class="bC" x="1570.21" y="1886.71" width="16.86" height="22.47"/>
<rect class="bT" x="1586.67" y="1886.71" width="16.86" height="22.47"/>
<rect class="bG" x="1603.13" y="1886.71" width="16.86" height="22.47"/>
<rect class="bA" x="1619.59" y="1886.71" width="16.86" height="22.47"/>
<rect class="bC" x="1636.05" y="1886.71" width="16.86" height="22.47"/>
<rect class="bT" x="1652.51" y="1886.71" width="16.86" height="22.47"/>
<rect class="bG" x="1668.97" y="1886.71" width="16.86" height="22.47"/>
<rect class="bT" x="1685.43" y="1886.71" width="16.86" height="22.47"/>
<rect class="bC" x="1701.89" y="1886.71" width="16.86" height="22.47"/>
<rect class="bA" x="1718.35" y="1886.71" width="49.78" height="22.47"/>
<rect class="bC" x="1767.73" y="1886.71" width="16.86" height="22.47"/>
<rect class="bT" x="1784.19" y="1886.71" width="16.86" height="22.47"/>
<rect class="bG" x="1800.65" y="1886.71" width="16.86" height="22.47"/>
<rect class="bT" x="1817.11" y="1886.71" width="16.86" height="22.47"/>
<rect class="bG" x="579.97" y="1908.78" width="33.32" height="22.47"/>
<rect class="bA" x="612.89" y="1908.78" width="33.32" height="22.47"/>
<rect class="bG" x="645.81" y="1908.78" width="33.32" height="22.47"/>
<rect class="bA" x="678.73" y="1908.78" width="16.86" height="22.47"/>
<rect class="bC" x="695.19" y="1908.78" width="49.78" height="22.47"/>
<rect class="bT" x="744.57" y="1908.78" width="16.86" height="22.47"/>
<rect class="bG" x="761.03" y="1908.78" width="16.86" height="22.47"/>
<rect class="bT" x="777.49" y="1908.78" width="16.86" height="22.47"/>
<rect class="bG" x="793.95" y="1908.78" width="16.86" height="22.47"/>
<rect class="bC" x="810.41" y="1908.78" width="33.32" height="22.47"/>
<rect class="bT" x="843.33" y="1908.78" width="16.86" height="22.47"/>
<rect class="bG" x="859.79" y="1908.78" width="33.32" height="22.47"/>
<rect class="bC" x="892.71" y="1908.78" width="16.86" height="22.47"/>
<rect class="bT" x="1224.55" y="1908.78" width="16.86" height="22.47"/>
<rect class="bC" x="1241.01" y="1908.78" width="16.86" height="22.47"/>
<rect class="bA" x="1257.47" y="1908.78" width="16.86" height="22.47"/>
<rect class="bG" x="1273.93" y="1908.78" width="33.32" height="22.47"/>
<rect class="bA" x="1306.85" y="1908.78" width="16.86" height="22.47"/>
<rect class="bT" x="1323.31" y="1908.78" width="49.78" height="22.47"/>
<rect class="bG" x="1372.69" y="1908.78" width="16.86" height="22.47"/>
<rect class="bT" x="1389.15" y="1908.78" width="16.86" height="22.47"/>
<rect class="bG" x="1405.61" y="1908.78" width="33.32" height="22.47"/>
<rect class="bC" x="1438.53" y="1908.78" width="16.86" height="22.47"/>
<rect class="bA" x="1454.99" y="1908.78" width="16.86" height="22.47"/>
<rect class="bC" x="1471.45" y="1908.78" width="33.32" height="22.47"/>
<rect class="bT" x="1504.37" y="1908.78" width="33.32" height="22.47"/>
<rect class="bC" x="1537.29" y="1908.78" width="16.86" height="22.47"/>
<rect class="bT" x="1553.75" y="1908.78" width="16.86" height="22.47"/>
<rect class="bG" x="1570.21" y="1908.78" width="16.86" height="22.47"/>
<rect class="bA" x="1586.67" y="1908.78" width="16.86" height="22.47"/>
<rect class="bC" x="1603.13" y="1908.78" width="16.86" height="22.47"/>
<rect class="bT" x="1619.59" y="1908.78" width="16.86" height="22.47"/>
<rect class="bG" x="1636.05" y="1908.78" width="16.86" height="22.47"/>
<rect class="bT" x="1652.51" y="1908.78" width="16.86" height="22.47"/>
<rect class="bC" x="1668.97" y="1908.78" width="16.86" height="22.47"/>
<rect class="bA" x="1685.43" y="1908.78" width="49.78" height="22.47"/>
<rect class="bC" x="1734.81" y="1908.78" width="16.86" height="22.47"/>
<rect class="bT" x="1751.27" y="1908.78" width="16.86" height="22.47"/>
<rect class="bG" x="1767.73" y="1908.78" width="16.86" height="22.47"/>
<rect class="bT" x="1784.19" y="1908.78" width="33.32" height="22.47"/>
<rect class="bC" x="1817.11" y="1908.78" width="16.86" height="22.47"/>
<rect class="bG" x="579.97" y="1930.85" width="33.32" height="22.47"/>
<rect class="bA" x="612.89" y="1930.85" width="33.32" height="22.47"/>
<rect class="bG" x="645.81" y="1930.85" width="33.32" height="22.47"/>
<rect class="bA" x="678.73" y="1930.85" width="16.86" height="22.47"/>
<rect class="bC" x="695.19" y="1930.85" width="49.78" height="22.47"/>
<rect class="bT" x="744.57" y="1930.85" width="16.86" height="22.47"/>
<rect class="bG" x="761.03" y="1930.85" width="16.86" height="22.47"/>
<rect class="bT" x="777.49" y="1930.85" width="16.86" height="22.47"/>
<rect class="bG" x="793.95" y="1930.85" width="16.86" height="22.47"/>
<rect class="bC" x="810.41" y="1930.85" width="33.32" height="22.47"/>
<rect class="bT" x="843.33" y="1930.85" width="16.86" height="22.47"/>
<rect class="bG" x="859.79" y="1930.85" width="33.32" height="22.47"/>
<rect class="bC" x="892.71" y="1930.85" width="16.86" height="22.47"/>
<rect class="bA" x="909.17" y="1930.85" width="66.24" height="22.47"/>
<rect class="bG" x="975.01" y="1930.85" width="16.86" height="22.47"/>
<rect class="bG" x="1092.87" y="1930.85" width="16.86" height="22.47"/>
<rect class="bT" x="1109.33" y="1930.85" width="16.86" height="22.47"/>
<rect class="bC" x="1125.79" y="1930.85" width="16.86" height="22.47"/>
<rect class="bG" x="1142.25" y="1930.85" width="16.86" height="22.47"/>
<rect class="bC" x="1158.71" y="1930.85" width="16.86" height="22.47"/>
<rect class="bT" x="1175.17" y="1930.85" width="33.32" height="22.47"/>
<rect class="bC" x="1208.09" y="1930.85" width="16.86" height="22.47"/>
<rect class="bT" x="1224.55" y="1930.85" width="16.86" height="22.47"/>
<rect class="bC" x="1241.01" y="1930.85" width="16.86" height="22.47"/>
<rect class="bA" x="1257.47" y="1930.85" width="16.86" height="22.47"/>
<rect class="bG" x="1273.93" y="1930.85" width="33.32" height="22.47"/>
<rect class="bA" x="1306.85" y="1930.85" width="16.86" height="22.47"/>
<rect class="bT" x="1323.31" y="1930.85" width="49.78" height="22.47"/>
<rect class="bG" x="1372.69" y="1930.85" width="16.86" height="22.47"/>
<rect class="bT" x="1389.15" y="1930.85" width="16.86" height="22.47"/>
<rect class="bG" x="1405.61" y="1930.85" width="33.32" height="22.47"/>
<rect class="bC" x="1438.53" y="1930.85" width="16.86" height="22.47"/>
<rect class="bA" x="1454.99" y="1930.85" width="16.86" height="22.47"/>
<rect class="bC" x="1471.45" y="1930.85" width="33.32" height="22.47"/>
<rect class="bT" x="1504.37" y="1930.85" width="33.32" height="22.47"/>
<rect class="bC" x="1537.29" y="1930.85" width="16.86" height="22.47"/>
<rect class="bT" x="1553.75" y="1930.85" width="16.86" height="22.47"/>
<rect class="bG" x="1570.21" y="1930.85" width="16.86" height="22.47"/>
<rect class="bA" x="1586.67" y="1930.85" width="16.86" height="22.47"/>
<rect class="bC" x="1603.13" y="1930.85" width="16.86" height="22.47"/>
<rect class="bT" x="1619.59" y="1930.85" width="16.86" height="22.47"/>
<rect class="bG" x="1636.05" y="1930.85" width="16.86" height="22.47"/>
<rect class="bT" x="1652.51" y="1930.85" width="16.86" height="22.47"/>
<rect class="bC" x="1668.97" y="1930.85" width="16.86" height="22.47"/>
<rect class="bA" x="1685.43" y="1930.85" width="49.78" height="22.47"/>
<rect class="bC" x="1734.81" y="1930.85" width="16.86" height="22.47"/>
<rect class="bT" x="1751.27" y="1930.85" width="16.86" height="22.47"/>
<rect class="bG" x="1767.73" y="1930.85" width="16.86" height="22.47"/>
<rect class="bT" x="1784.19" y="1930.85" width="33.32" height="22.47"/>
<rect class="bC" x="1817.11" y="1930.85" width="16.86" height="22.47"/>
<text x="426.6" y="1615.0" font-size="11.5" font-weight="bold" fill="#30363a" text-anchor="end" textLength="21.8" lengthAdjust="spacingAndGlyphs">−12</text>
<rect x="439.0" y="1608.2" width="24.6" height="4.4" rx="2.2" fill="#45b5d3"/>
<text x="567.8" y="1615.0" font-size="11.5" fill="#707578" text-anchor="end" textLength="27.6" lengthAdjust="spacingAndGlyphs">25%</text>
<text class="fG" transform="scale(0.88 1)" x="668.4 687.1 743.2 761.9 874.2 911.6 986.4 1005.1 1457.0 1475.7 1569.2 1606.6 1625.3 1793.7 1868.5 2018.1" y="1615.2" font-size="12" text-anchor="middle" font-weight="bold" stroke="#1f2428" stroke-width="0.45">GGGGGGGGGGGGGGGG</text>
<text class="fA" transform="scale(0.88 1)" x="705.8 724.5 780.6 1042.5 1061.2 1079.9 1438.3 1494.4 1662.8 1812.4 1924.6 1943.3 1962.0" y="1615.2" font-size="12" text-anchor="middle" font-weight="bold">AAAAAAAAAAAAA</text>
<text class="fC" transform="scale(0.88 1)" x="799.3 818.0 836.8 930.3 949.0 1023.8 1382.2 1419.6 1644.0 1681.5 1700.2 1756.3 1831.1 1905.9 1980.7 2074.2" y="1615.2" font-size="12" text-anchor="middle" font-weight="bold">CCCCCCCCCCCCCCCC</text>
<text class="fT" transform="scale(0.88 1)" x="855.5 892.9 967.7 1344.8 1363.5 1400.9 1513.1 1531.8 1550.5 1587.9 1718.9 1737.6 1775.0 1849.8 1887.2 1999.4 2036.8 2055.5" y="1615.2" font-size="12" text-anchor="middle" font-weight="bold">TTTTTTTTTTTTTTTTTT</text>
<text x="426.6" y="1637.0" font-size="11.5" font-weight="bold" fill="#30363a" text-anchor="end" textLength="14.7" lengthAdjust="spacingAndGlyphs">−5</text>
<rect x="439.0" y="1630.3" width="12.0" height="4.4" rx="2.2" fill="#45b5d3"/>
<text x="567.8" y="1637.0" font-size="11.5" fill="#707578" text-anchor="end" textLength="27.6" lengthAdjust="spacingAndGlyphs">12%</text>
<text class="fG" transform="scale(0.88 1)" x="668.4 687.1 743.2 761.9 874.2 911.6 986.4 1005.1 1232.5 1251.2 1307.4 1457.0 1475.7 1569.2 1606.6 1625.3 1793.7 1868.5 2018.1" y="1637.2" font-size="12" text-anchor="middle" font-weight="bold" stroke="#1f2428" stroke-width="0.45">GGGGGGGGGGGGGGGGGGG</text>
<text class="fA" transform="scale(0.88 1)" x="705.8 724.5 780.6 1042.5 1213.8 1438.3 1494.4 1662.8 1812.4 1924.6 1943.3 1962.0" y="1637.2" font-size="12" text-anchor="middle" font-weight="bold">AAAAAAAAAAAA</text>
<text class="fC" transform="scale(0.88 1)" x="799.3 818.0 836.8 930.3 949.0 1023.8 1176.4 1195.1 1288.7 1326.1 1382.2 1419.6 1644.0 1681.5 1700.2 1756.3 1831.1 1905.9 1980.7 2074.2" y="1637.2" font-size="12" text-anchor="middle" font-weight="bold">CCCCCCCCCCCCCCCCCCCC</text>
<text class="fT" transform="scale(0.88 1)" x="855.5 892.9 967.7 1270.0 1344.8 1363.5 1400.9 1513.1 1531.8 1550.5 1587.9 1718.9 1737.6 1775.0 1849.8 1887.2 1999.4 2036.8 2055.5" y="1637.2" font-size="12" text-anchor="middle" font-weight="bold">TTTTTTTTTTTTTTTTTTT</text>
<text x="426.6" y="1659.1" font-size="11.5" font-weight="bold" fill="#30363a" text-anchor="end" textLength="21.8" lengthAdjust="spacingAndGlyphs">−12</text>
<rect x="439.0" y="1652.4" width="11.0" height="4.4" rx="2.2" fill="#45b5d3"/>
<text x="567.8" y="1659.1" font-size="11.5" fill="#707578" text-anchor="end" textLength="26.6" lengthAdjust="spacingAndGlyphs">11%</text>
<text class="fG" transform="scale(0.88 1)" x="668.4 687.1 743.2 761.9 874.2 911.6 986.4 1005.1 1307.4 1457.0 1475.7 1569.2 1606.6 1625.3 1793.7 1868.5 2018.1" y="1659.3" font-size="12" text-anchor="middle" font-weight="bold" stroke="#1f2428" stroke-width="0.45">GGGGGGGGGGGGGGGGG</text>
<text class="fA" transform="scale(0.88 1)" x="705.8 724.5 780.6 1438.3 1494.4 1662.8 1812.4 1924.6 1943.3 1962.0" y="1659.3" font-size="12" text-anchor="middle" font-weight="bold">AAAAAAAAAA</text>
<text class="fC" transform="scale(0.88 1)" x="799.3 818.0 836.8 930.3 949.0 1288.7 1326.1 1382.2 1419.6 1644.0 1681.5 1700.2 1756.3 1831.1 1905.9 1980.7 2074.2" y="1659.3" font-size="12" text-anchor="middle" font-weight="bold">CCCCCCCCCCCCCCCCC</text>
<text class="fT" transform="scale(0.88 1)" x="855.5 892.9 967.7 1270.0 1344.8 1363.5 1400.9 1513.1 1531.8 1550.5 1587.9 1718.9 1737.6 1775.0 1849.8 1887.2 1999.4 2036.8 2055.5" y="1659.3" font-size="12" text-anchor="middle" font-weight="bold">TTTTTTTTTTTTTTTTTTT</text>
<text x="426.6" y="1681.2" font-size="11.5" font-weight="bold" fill="#30363a" text-anchor="end" textLength="14.7" lengthAdjust="spacingAndGlyphs">+1</text>
<rect x="439.0" y="1674.4" width="9.0" height="4.4" rx="2.2" fill="#45b5d3"/>
<text x="567.8" y="1681.2" font-size="11.5" fill="#707578" text-anchor="end" textLength="19.9" lengthAdjust="spacingAndGlyphs">9%</text>
<text class="fG" transform="scale(0.88 1)" x="668.4 687.1 743.2 761.9 874.2 911.6 986.4 1005.1 1117.3 1251.2 1270.0 1326.1 1475.7 1494.4 1587.9 1625.3 1644.0 1812.4 1887.2 2036.8" y="1681.4" font-size="12" text-anchor="middle" font-weight="bold" stroke="#1f2428" stroke-width="0.45">GGGGGGGGGGGGGGGGGGGG</text>
<text class="fA" transform="scale(0.88 1)" x="705.8 724.5 780.6 1042.5 1061.2 1079.9 1098.6 1232.5 1457.0 1513.1 1681.5 1831.1 1943.3 1962.0 1980.7" y="1681.4" font-size="12" text-anchor="middle" font-weight="bold">AAAAAAAAAAAAAAA</text>
<text class="fC" transform="scale(0.88 1)" x="799.3 818.0 836.8 930.3 949.0 1023.8 1195.1 1213.8 1307.4 1344.8 1400.9 1438.3 1662.8 1700.2 1718.9 1775.0 1849.8 1924.6 1999.4" y="1681.4" font-size="12" text-anchor="middle" font-weight="bold">CCCCCCCCCCCCCCCCCCC</text>
<text class="fT" transform="scale(0.88 1)" x="855.5 892.9 967.7 1176.4 1288.7 1363.5 1382.2 1419.6 1531.8 1550.5 1569.2 1606.6 1737.6 1756.3 1793.7 1868.5 1905.9 2018.1 2055.5 2074.2" y="1681.4" font-size="12" text-anchor="middle" font-weight="bold">TTTTTTTTTTTTTTTTTTTT</text>
<text class="fN" transform="scale(0.88 1)" x="1157.7" y="1681.4" font-size="12" text-anchor="middle" font-weight="bold" stroke="#444a4f" stroke-width="0.3">N</text>
<text x="426.6" y="1703.3" font-size="11.5" font-weight="bold" fill="#30363a" text-anchor="end" textLength="14.7" lengthAdjust="spacingAndGlyphs">−6</text>
<rect x="439.0" y="1696.5" width="8.0" height="4.4" rx="2.2" fill="#45b5d3"/>
<text x="567.8" y="1703.3" font-size="11.5" fill="#707578" text-anchor="end" textLength="19.9" lengthAdjust="spacingAndGlyphs">8%</text>
<text class="fG" transform="scale(0.88 1)" x="668.4 687.1 743.2 761.9 874.2 911.6 986.4 1005.1 1232.5 1251.2 1307.4 1457.0 1475.7 1569.2 1606.6 1625.3 1793.7 1868.5 2018.1" y="1703.4" font-size="12" text-anchor="middle" font-weight="bold" stroke="#1f2428" stroke-width="0.45">GGGGGGGGGGGGGGGGGGG</text>
<text class="fA" transform="scale(0.88 1)" x="705.8 724.5 780.6 1213.8 1438.3 1494.4 1662.8 1812.4 1924.6 1943.3 1962.0" y="1703.4" font-size="12" text-anchor="middle" font-weight="bold">AAAAAAAAAAA</text>
<text class="fC" transform="scale(0.88 1)" x="799.3 818.0 836.8 930.3 949.0 1176.4 1195.1 1288.7 1326.1 1382.2 1419.6 1644.0 1681.5 1700.2 1756.3 1831.1 1905.9 1980.7 2074.2" y="1703.4" font-size="12" text-anchor="middle" font-weight="bold">CCCCCCCCCCCCCCCCCCC</text>
<text class="fT" transform="scale(0.88 1)" x="855.5 892.9 967.7 1157.7 1270.0 1344.8 1363.5 1400.9 1513.1 1531.8 1550.5 1587.9 1718.9 1737.6 1775.0 1849.8 1887.2 1999.4 2036.8 2055.5" y="1703.4" font-size="12" text-anchor="middle" font-weight="bold">TTTTTTTTTTTTTTTTTTTT</text>
<text x="426.6" y="1725.3" font-size="11.5" font-weight="bold" fill="#30363a" text-anchor="end" textLength="14.7" lengthAdjust="spacingAndGlyphs">−6</text>
<rect x="439.0" y="1718.6" width="5.4" height="4.4" rx="2.2" fill="#45b5d3"/>
<text x="567.8" y="1725.3" font-size="11.5" fill="#707578" text-anchor="end" textLength="19.9" lengthAdjust="spacingAndGlyphs">5%</text>
<text class="fG" transform="scale(0.88 1)" x="668.4 687.1 743.2 761.9 874.2 911.6 986.4 1005.1 1117.3 1307.4 1457.0 1475.7 1569.2 1606.6 1625.3 1793.7 1868.5 2018.1" y="1725.5" font-size="12" text-anchor="middle" font-weight="bold" stroke="#1f2428" stroke-width="0.45">GGGGGGGGGGGGGGGGGG</text>
<text class="fA" transform="scale(0.88 1)" x="705.8 724.5 780.6 1042.5 1061.2 1079.9 1098.6 1438.3 1494.4 1662.8 1812.4 1924.6 1943.3 1962.0" y="1725.5" font-size="12" text-anchor="middle" font-weight="bold">AAAAAAAAAAAAAA</text>
<text class="fC" transform="scale(0.88 1)" x="799.3 818.0 836.8 930.3 949.0 1023.8 1288.7 1326.1 1382.2 1419.6 1644.0 1681.5 1700.2 1756.3 1831.1 1905.9 1980.7 2074.2" y="1725.5" font-size="12" text-anchor="middle" font-weight="bold">CCCCCCCCCCCCCCCCCC</text>
<text class="fT" transform="scale(0.88 1)" x="855.5 892.9 967.7 1270.0 1344.8 1363.5 1400.9 1513.1 1531.8 1550.5 1587.9 1718.9 1737.6 1775.0 1849.8 1887.2 1999.4 2036.8 2055.5" y="1725.5" font-size="12" text-anchor="middle" font-weight="bold">TTTTTTTTTTTTTTTTTTT</text>
<text x="426.6" y="1747.4" font-size="11.5" font-weight="bold" fill="#30363a" text-anchor="end" textLength="14.7" lengthAdjust="spacingAndGlyphs">−1</text>
<rect x="439.0" y="1740.7" width="5.4" height="4.4" rx="2.2" fill="#45b5d3"/>
<text x="567.8" y="1747.4" font-size="11.5" fill="#707578" text-anchor="end" textLength="19.9" lengthAdjust="spacingAndGlyphs">5%</text>
<text class="fG" transform="scale(0.88 1)" x="668.4 687.1 743.2 761.9 874.2 911.6 986.4 1005.1 1117.3 1232.5 1251.2 1307.4 1457.0 1475.7 1569.2 1606.6 1625.3 1793.7 1868.5 2018.1" y="1747.6" font-size="12" text-anchor="middle" font-weight="bold" stroke="#1f2428" stroke-width="0.45">GGGGGGGGGGGGGGGGGGGG</text>
<text class="fA" transform="scale(0.88 1)" x="705.8 724.5 780.6 1042.5 1061.2 1079.9 1098.6 1213.8 1438.3 1494.4 1662.8 1812.4 1924.6 1943.3 1962.0" y="1747.6" font-size="12" text-anchor="middle" font-weight="bold">AAAAAAAAAAAAAAA</text>
<text class="fC" transform="scale(0.88 1)" x="799.3 818.0 836.8 930.3 949.0 1023.8 1176.4 1195.1 1288.7 1326.1 1382.2 1419.6 1644.0 1681.5 1700.2 1756.3 1831.1 1905.9 1980.7 2074.2" y="1747.6" font-size="12" text-anchor="middle" font-weight="bold">CCCCCCCCCCCCCCCCCCCC</text>
<text class="fT" transform="scale(0.88 1)" x="855.5 892.9 967.7 1270.0 1344.8 1363.5 1400.9 1513.1 1531.8 1550.5 1587.9 1718.9 1737.6 1775.0 1849.8 1887.2 1999.4 2036.8 2055.5" y="1747.6" font-size="12" text-anchor="middle" font-weight="bold">TTTTTTTTTTTTTTTTTTT</text>
<text x="426.6" y="1769.5" font-size="11.5" font-weight="bold" fill="#30363a" text-anchor="end" textLength="21.8" lengthAdjust="spacingAndGlyphs">−12</text>
<rect x="439.0" y="1762.7" width="3.5" height="4.4" rx="1.8" fill="#45b5d3"/>
<text x="567.8" y="1769.5" font-size="11.5" fill="#707578" text-anchor="end" textLength="19.9" lengthAdjust="spacingAndGlyphs">4%</text>
<text class="fG" transform="scale(0.88 1)" x="668.4 687.1 743.2 761.9 874.2 911.6 986.4 1005.1 1307.4 1457.0 1475.7 1569.2 1606.6 1625.3 1793.7 1868.5 2018.1" y="1769.6" font-size="12" text-anchor="middle" font-weight="bold" stroke="#1f2428" stroke-width="0.45">GGGGGGGGGGGGGGGGG</text>
<text class="fA" transform="scale(0.88 1)" x="705.8 724.5 780.6 1438.3 1494.4 1662.8 1812.4 1924.6 1943.3 1962.0" y="1769.6" font-size="12" text-anchor="middle" font-weight="bold">AAAAAAAAAA</text>
<text class="fC" transform="scale(0.88 1)" x="799.3 818.0 836.8 930.3 949.0 1023.8 1288.7 1326.1 1382.2 1419.6 1644.0 1681.5 1700.2 1756.3 1831.1 1905.9 1980.7 2074.2" y="1769.6" font-size="12" text-anchor="middle" font-weight="bold">CCCCCCCCCCCCCCCCCC</text>
<text class="fT" transform="scale(0.88 1)" x="855.5 892.9 967.7 1344.8 1363.5 1400.9 1513.1 1531.8 1550.5 1587.9 1718.9 1737.6 1775.0 1849.8 1887.2 1999.4 2036.8 2055.5" y="1769.6" font-size="12" text-anchor="middle" font-weight="bold">TTTTTTTTTTTTTTTTTT</text>
<text x="426.6" y="1791.5" font-size="11.5" font-weight="bold" fill="#30363a" text-anchor="end" textLength="14.7" lengthAdjust="spacingAndGlyphs">−5</text>
<rect x="439.0" y="1784.8" width="2.8" height="4.4" rx="1.4" fill="#45b5d3"/>
<text x="567.8" y="1791.5" font-size="11.5" fill="#707578" text-anchor="end" textLength="19.9" lengthAdjust="spacingAndGlyphs">3%</text>
<text class="fG" transform="scale(0.88 1)" x="668.4 687.1 743.2 761.9 874.2 911.6 986.4 1005.1 1232.5 1251.2 1307.4 1457.0 1475.7 1569.2 1606.6 1625.3 1793.7 1868.5 2018.1" y="1791.7" font-size="12" text-anchor="middle" font-weight="bold" stroke="#1f2428" stroke-width="0.45">GGGGGGGGGGGGGGGGGGG</text>
<text class="fA" transform="scale(0.88 1)" x="705.8 724.5 780.6 1213.8 1438.3 1494.4 1662.8 1812.4 1924.6 1943.3 1962.0" y="1791.7" font-size="12" text-anchor="middle" font-weight="bold">AAAAAAAAAAA</text>
<text class="fC" transform="scale(0.88 1)" x="799.3 818.0 836.8 930.3 949.0 1023.8 1176.4 1195.1 1288.7 1326.1 1382.2 1419.6 1644.0 1681.5 1700.2 1756.3 1831.1 1905.9 1980.7 2074.2" y="1791.7" font-size="12" text-anchor="middle" font-weight="bold">CCCCCCCCCCCCCCCCCCCC</text>
<text class="fT" transform="scale(0.88 1)" x="855.5 892.9 967.7 1157.7 1270.0 1344.8 1363.5 1400.9 1513.1 1531.8 1550.5 1587.9 1718.9 1737.6 1775.0 1849.8 1887.2 1999.4 2036.8 2055.5" y="1791.7" font-size="12" text-anchor="middle" font-weight="bold">TTTTTTTTTTTTTTTTTTTT</text>
<text x="426.6" y="1813.6" font-size="11.5" font-weight="bold" fill="#30363a" text-anchor="end" textLength="14.7" lengthAdjust="spacingAndGlyphs">−2</text>
<rect x="439.0" y="1806.9" width="2.4" height="4.4" rx="1.2" fill="#45b5d3"/>
<text x="567.8" y="1813.6" font-size="11.5" fill="#707578" text-anchor="end" textLength="19.9" lengthAdjust="spacingAndGlyphs">3%</text>
<text class="fG" transform="scale(0.88 1)" x="668.4 687.1 743.2 761.9 874.2 911.6 986.4 1005.1 1232.5 1251.2 1307.4 1457.0 1475.7 1569.2 1606.6 1625.3 1793.7 1868.5 2018.1" y="1813.8" font-size="12" text-anchor="middle" font-weight="bold" stroke="#1f2428" stroke-width="0.45">GGGGGGGGGGGGGGGGGGG</text>
<text class="fA" transform="scale(0.88 1)" x="705.8 724.5 780.6 1042.5 1061.2 1079.9 1213.8 1438.3 1494.4 1662.8 1812.4 1924.6 1943.3 1962.0" y="1813.8" font-size="12" text-anchor="middle" font-weight="bold">AAAAAAAAAAAAAA</text>
<text class="fC" transform="scale(0.88 1)" x="799.3 818.0 836.8 930.3 949.0 1023.8 1176.4 1195.1 1288.7 1326.1 1382.2 1419.6 1644.0 1681.5 1700.2 1756.3 1831.1 1905.9 1980.7 2074.2" y="1813.8" font-size="12" text-anchor="middle" font-weight="bold">CCCCCCCCCCCCCCCCCCCC</text>
<text class="fT" transform="scale(0.88 1)" x="855.5 892.9 967.7 1157.7 1270.0 1344.8 1363.5 1400.9 1513.1 1531.8 1550.5 1587.9 1718.9 1737.6 1775.0 1849.8 1887.2 1999.4 2036.8 2055.5" y="1813.8" font-size="12" text-anchor="middle" font-weight="bold">TTTTTTTTTTTTTTTTTTTT</text>
<text x="426.6" y="1835.7" font-size="11.5" font-weight="bold" fill="#30363a" text-anchor="end" textLength="21.8" lengthAdjust="spacingAndGlyphs">−12</text>
<rect x="439.0" y="1828.9" width="1.4" height="4.4" rx="0.7" fill="#45b5d3"/>
<text x="567.8" y="1835.7" font-size="11.5" fill="#707578" text-anchor="end" textLength="19.9" lengthAdjust="spacingAndGlyphs">2%</text>
<text class="fG" transform="scale(0.88 1)" x="668.4 687.1 743.2 761.9 874.2 911.6 1232.5 1251.2 1307.4 1457.0 1475.7 1569.2 1606.6 1625.3 1793.7 1868.5 2018.1" y="1835.9" font-size="12" text-anchor="middle" font-weight="bold" stroke="#1f2428" stroke-width="0.45">GGGGGGGGGGGGGGGGG</text>
<text class="fA" transform="scale(0.88 1)" x="705.8 724.5 780.6 1213.8 1438.3 1494.4 1662.8 1812.4 1924.6 1943.3 1962.0" y="1835.9" font-size="12" text-anchor="middle" font-weight="bold">AAAAAAAAAAA</text>
<text class="fC" transform="scale(0.88 1)" x="799.3 818.0 836.8 930.3 949.0 1288.7 1326.1 1382.2 1419.6 1644.0 1681.5 1700.2 1756.3 1831.1 1905.9 1980.7 2074.2" y="1835.9" font-size="12" text-anchor="middle" font-weight="bold">CCCCCCCCCCCCCCCCC</text>
<text class="fT" transform="scale(0.88 1)" x="855.5 892.9 1270.0 1344.8 1363.5 1400.9 1513.1 1531.8 1550.5 1587.9 1718.9 1737.6 1775.0 1849.8 1887.2 1999.4 2036.8 2055.5" y="1835.9" font-size="12" text-anchor="middle" font-weight="bold">TTTTTTTTTTTTTTTTTT</text>
<text x="426.6" y="1857.7" font-size="11.5" font-weight="bold" fill="#30363a" text-anchor="end" textLength="14.7" lengthAdjust="spacingAndGlyphs">−8</text>
<rect x="439.0" y="1851.0" width="1.4" height="4.4" rx="0.7" fill="#45b5d3"/>
<text x="567.8" y="1857.7" font-size="11.5" fill="#707578" text-anchor="end" textLength="19.9" lengthAdjust="spacingAndGlyphs">2%</text>
<text class="fG" transform="scale(0.88 1)" x="668.4 687.1 743.2 761.9 874.2 911.6 986.4 1005.1 1307.4 1457.0 1475.7 1569.2 1606.6 1625.3 1793.7 1868.5 2018.1" y="1857.9" font-size="12" text-anchor="middle" font-weight="bold" stroke="#1f2428" stroke-width="0.45">GGGGGGGGGGGGGGGGG</text>
<text class="fA" transform="scale(0.88 1)" x="705.8 724.5 780.6 1042.5 1061.2 1079.9 1438.3 1494.4 1662.8 1812.4 1924.6 1943.3 1962.0" y="1857.9" font-size="12" text-anchor="middle" font-weight="bold">AAAAAAAAAAAAA</text>
<text class="fC" transform="scale(0.88 1)" x="799.3 818.0 836.8 930.3 949.0 1023.8 1288.7 1326.1 1382.2 1419.6 1644.0 1681.5 1700.2 1756.3 1831.1 1905.9 1980.7 2074.2" y="1857.9" font-size="12" text-anchor="middle" font-weight="bold">CCCCCCCCCCCCCCCCCC</text>
<text class="fT" transform="scale(0.88 1)" x="855.5 892.9 967.7 1270.0 1344.8 1363.5 1400.9 1513.1 1531.8 1550.5 1587.9 1718.9 1737.6 1775.0 1849.8 1887.2 1999.4 2036.8 2055.5" y="1857.9" font-size="12" text-anchor="middle" font-weight="bold">TTTTTTTTTTTTTTTTTTT</text>
<text x="426.6" y="1879.8" font-size="11.5" font-weight="bold" fill="#30363a" text-anchor="end" textLength="7.2" lengthAdjust="spacingAndGlyphs">0</text>
<rect x="439.0" y="1873.1" width="1.4" height="4.4" rx="0.7" fill="#45b5d3"/>
<text x="567.8" y="1879.8" font-size="11.5" fill="#707578" text-anchor="end" textLength="19.9" lengthAdjust="spacingAndGlyphs">2%</text>
<text class="fG" transform="scale(0.88 1)" x="668.4 687.1 743.2 761.9 874.2 911.6 986.4 1005.1 1117.3 1232.5 1251.2 1307.4 1457.0 1475.7 1569.2 1606.6 1625.3 1793.7 1868.5 2018.1" y="1880.0" font-size="12" text-anchor="middle" font-weight="bold" stroke="#1f2428" stroke-width="0.45">GGGGGGGGGGGGGGGGGGGG</text>
<text class="fA" transform="scale(0.88 1)" x="705.8 724.5 780.6 1042.5 1061.2 1079.9 1098.6 1213.8 1438.3 1494.4 1662.8 1812.4 1924.6 1943.3 1962.0" y="1880.0" font-size="12" text-anchor="middle" font-weight="bold">AAAAAAAAAAAAAAA</text>
<text class="fC" transform="scale(0.88 1)" x="799.3 818.0 836.8 930.3 949.0 1023.8 1176.4 1195.1 1288.7 1326.1 1382.2 1419.6 1644.0 1681.5 1700.2 1756.3 1831.1 1905.9 1980.7 2074.2" y="1880.0" font-size="12" text-anchor="middle" font-weight="bold">CCCCCCCCCCCCCCCCCCCC</text>
<text class="fT" transform="scale(0.88 1)" x="855.5 892.9 967.7 1157.7 1270.0 1344.8 1363.5 1400.9 1513.1 1531.8 1550.5 1587.9 1718.9 1737.6 1775.0 1849.8 1887.2 1999.4 2036.8 2055.5" y="1880.0" font-size="12" text-anchor="middle" font-weight="bold">TTTTTTTTTTTTTTTTTTTT</text>
<text x="426.6" y="1901.9" font-size="11.5" font-weight="bold" fill="#30363a" text-anchor="end" textLength="14.7" lengthAdjust="spacingAndGlyphs">+2</text>
<rect x="439.0" y="1895.1" width="1.0" height="4.4" rx="0.5" fill="#45b5d3"/>
<text x="567.8" y="1901.9" font-size="11.5" fill="#707578" text-anchor="end" textLength="19.9" lengthAdjust="spacingAndGlyphs">1%</text>
<text class="fG" transform="scale(0.88 1)" x="668.4 687.1 743.2 761.9 874.2 911.6 986.4 1005.1 1117.3 1270.0 1288.7 1344.8 1494.4 1513.1 1606.6 1644.0 1662.8 1831.1 1905.9 2055.5" y="1902.1" font-size="12" text-anchor="middle" font-weight="bold" stroke="#1f2428" stroke-width="0.45">GGGGGGGGGGGGGGGGGGGG</text>
<text class="fA" transform="scale(0.88 1)" x="705.8 724.5 780.6 1042.5 1061.2 1079.9 1098.6 1251.2 1475.7 1531.8 1700.2 1849.8 1962.0 1980.7 1999.4" y="1902.1" font-size="12" text-anchor="middle" font-weight="bold">AAAAAAAAAAAAAAA</text>
<text class="fC" transform="scale(0.88 1)" x="799.3 818.0 836.8 930.3 949.0 1023.8 1213.8 1232.5 1326.1 1363.5 1419.6 1457.0 1681.5 1718.9 1737.6 1793.7 1868.5 1943.3 2018.1" y="1902.1" font-size="12" text-anchor="middle" font-weight="bold">CCCCCCCCCCCCCCCCCCC</text>
<text class="fT" transform="scale(0.88 1)" x="855.5 892.9 967.7 1195.1 1307.4 1382.2 1400.9 1438.3 1550.5 1569.2 1587.9 1625.3 1756.3 1775.0 1812.4 1887.2 1924.6 2036.8 2074.2" y="1902.1" font-size="12" text-anchor="middle" font-weight="bold">TTTTTTTTTTTTTTTTTTT</text>
<text class="fN" transform="scale(0.88 1)" x="1157.7 1176.4" y="1902.1" font-size="12" text-anchor="middle" font-weight="bold" stroke="#444a4f" stroke-width="0.3">NN</text>
<text x="426.6" y="1924.0" font-size="11.5" font-weight="bold" fill="#30363a" text-anchor="end" textLength="21.8" lengthAdjust="spacingAndGlyphs">−18</text>
<rect x="439.0" y="1917.2" width="1.0" height="4.4" rx="0.5" fill="#45b5d3"/>
<text x="567.8" y="1924.0" font-size="11.5" fill="#707578" text-anchor="end" textLength="19.9" lengthAdjust="spacingAndGlyphs">1%</text>
<text class="fG" transform="scale(0.88 1)" x="668.4 687.1 743.2 761.9 874.2 911.6 986.4 1005.1 1457.0 1475.7 1569.2 1606.6 1625.3 1793.7 1868.5 2018.1" y="1924.1" font-size="12" text-anchor="middle" font-weight="bold" stroke="#1f2428" stroke-width="0.45">GGGGGGGGGGGGGGGG</text>
<text class="fA" transform="scale(0.88 1)" x="705.8 724.5 780.6 1438.3 1494.4 1662.8 1812.4 1924.6 1943.3 1962.0" y="1924.1" font-size="12" text-anchor="middle" font-weight="bold">AAAAAAAAAA</text>
<text class="fC" transform="scale(0.88 1)" x="799.3 818.0 836.8 930.3 949.0 1023.8 1419.6 1644.0 1681.5 1700.2 1756.3 1831.1 1905.9 1980.7 2074.2" y="1924.1" font-size="12" text-anchor="middle" font-weight="bold">CCCCCCCCCCCCCCC</text>
<text class="fT" transform="scale(0.88 1)" x="855.5 892.9 967.7 1400.9 1513.1 1531.8 1550.5 1587.9 1718.9 1737.6 1775.0 1849.8 1887.2 1999.4 2036.8 2055.5" y="1924.1" font-size="12" text-anchor="middle" font-weight="bold">TTTTTTTTTTTTTTTT</text>
<text x="426.6" y="1946.0" font-size="11.5" font-weight="bold" fill="#30363a" text-anchor="end" textLength="14.7" lengthAdjust="spacingAndGlyphs">−5</text>
<rect x="439.0" y="1939.3" width="1.0" height="4.4" rx="0.5" fill="#45b5d3"/>
<text x="567.8" y="1946.0" font-size="11.5" fill="#707578" text-anchor="end" textLength="19.9" lengthAdjust="spacingAndGlyphs">1%</text>
<text class="fG" transform="scale(0.88 1)" x="668.4 687.1 743.2 761.9 874.2 911.6 986.4 1005.1 1117.3 1251.2 1307.4 1457.0 1475.7 1569.2 1606.6 1625.3 1793.7 1868.5 2018.1" y="1946.2" font-size="12" text-anchor="middle" font-weight="bold" stroke="#1f2428" stroke-width="0.45">GGGGGGGGGGGGGGGGGGG</text>
<text class="fA" transform="scale(0.88 1)" x="705.8 724.5 780.6 1042.5 1061.2 1079.9 1098.6 1438.3 1494.4 1662.8 1812.4 1924.6 1943.3 1962.0" y="1946.2" font-size="12" text-anchor="middle" font-weight="bold">AAAAAAAAAAAAAA</text>
<text class="fC" transform="scale(0.88 1)" x="799.3 818.0 836.8 930.3 949.0 1023.8 1288.7 1326.1 1382.2 1419.6 1644.0 1681.5 1700.2 1756.3 1831.1 1905.9 1980.7 2074.2" y="1946.2" font-size="12" text-anchor="middle" font-weight="bold">CCCCCCCCCCCCCCCCCC</text>
<text class="fT" transform="scale(0.88 1)" x="855.5 892.9 967.7 1270.0 1344.8 1363.5 1400.9 1513.1 1531.8 1550.5 1587.9 1718.9 1737.6 1775.0 1849.8 1887.2 1999.4 2036.8 2055.5" y="1946.2" font-size="12" text-anchor="middle" font-weight="bold">TTTTTTTTTTTTTTTTTTT</text>
<path d="M964.0,1610.8h5.5M980.5,1610.8h5.5M1016.0,1610.8h5.5M1032.5,1610.8h5.5M1049.0,1610.8h5.5M1065.4,1610.8h5.5M1081.9,1610.8h5.5M1098.3,1610.8h5.5M1114.8,1610.8h5.5M1131.3,1610.8h5.5M1147.7,1610.8h5.5M1164.2,1610.8h5.5M931.1,1632.9h5.5M947.6,1632.9h5.5M964.0,1632.9h5.5M980.5,1632.9h5.5M1016.0,1632.9h5.5M898.2,1655.0h5.5M914.7,1655.0h5.5M931.1,1655.0h5.5M947.6,1655.0h5.5M964.0,1655.0h5.5M980.5,1655.0h5.5M1016.0,1655.0h5.5M1032.5,1655.0h5.5M1049.0,1655.0h5.5M1065.4,1655.0h5.5M1081.9,1655.0h5.5M1098.3,1655.0h5.5M898.2,1699.1h5.5M914.7,1699.1h5.5M931.1,1699.1h5.5M947.6,1699.1h5.5M964.0,1699.1h5.5M980.5,1699.1h5.5M1016.0,1721.2h5.5M1032.5,1721.2h5.5M1049.0,1721.2h5.5M1065.4,1721.2h5.5M1081.9,1721.2h5.5M1098.3,1721.2h5.5M1016.0,1743.3h5.5M914.7,1765.3h5.5M931.1,1765.3h5.5M947.6,1765.3h5.5M964.0,1765.3h5.5M980.5,1765.3h5.5M1016.0,1765.3h5.5M1032.5,1765.3h5.5M1049.0,1765.3h5.5M1065.4,1765.3h5.5M1081.9,1765.3h5.5M1098.3,1765.3h5.5M1114.8,1765.3h5.5M914.7,1787.4h5.5M931.1,1787.4h5.5M947.6,1787.4h5.5M964.0,1787.4h5.5M980.5,1787.4h5.5M964.0,1809.5h5.5M980.5,1809.5h5.5M848.8,1831.5h5.5M865.3,1831.5h5.5M881.7,1831.5h5.5M898.2,1831.5h5.5M914.7,1831.5h5.5M931.1,1831.5h5.5M947.6,1831.5h5.5M964.0,1831.5h5.5M980.5,1831.5h5.5M1016.0,1831.5h5.5M1032.5,1831.5h5.5M1049.0,1831.5h5.5M964.0,1853.6h5.5M980.5,1853.6h5.5M1016.0,1853.6h5.5M1032.5,1853.6h5.5M1049.0,1853.6h5.5M1065.4,1853.6h5.5M1081.9,1853.6h5.5M1098.3,1853.6h5.5M914.7,1919.8h5.5M931.1,1919.8h5.5M947.6,1919.8h5.5M964.0,1919.8h5.5M980.5,1919.8h5.5M1016.0,1919.8h5.5M1032.5,1919.8h5.5M1049.0,1919.8h5.5M1065.4,1919.8h5.5M1081.9,1919.8h5.5M1098.3,1919.8h5.5M1114.8,1919.8h5.5M1131.3,1919.8h5.5M1147.7,1919.8h5.5M1164.2,1919.8h5.5M1180.7,1919.8h5.5M1197.1,1919.8h5.5M1213.6,1919.8h5.5M1016.0,1941.9h5.5M1032.5,1941.9h5.5M1049.0,1941.9h5.5M1065.4,1941.9h5.5M1081.9,1941.9h5.5" stroke="#8c8c8c" stroke-width="1.6" fill="none"/>
<line x1="1000.2" y1="1563.0" x2="1000.2" y2="1953.0" stroke="#000" stroke-width="4.4" stroke-dasharray="4.3 4.3"/>
</svg>
</body>
</html>
